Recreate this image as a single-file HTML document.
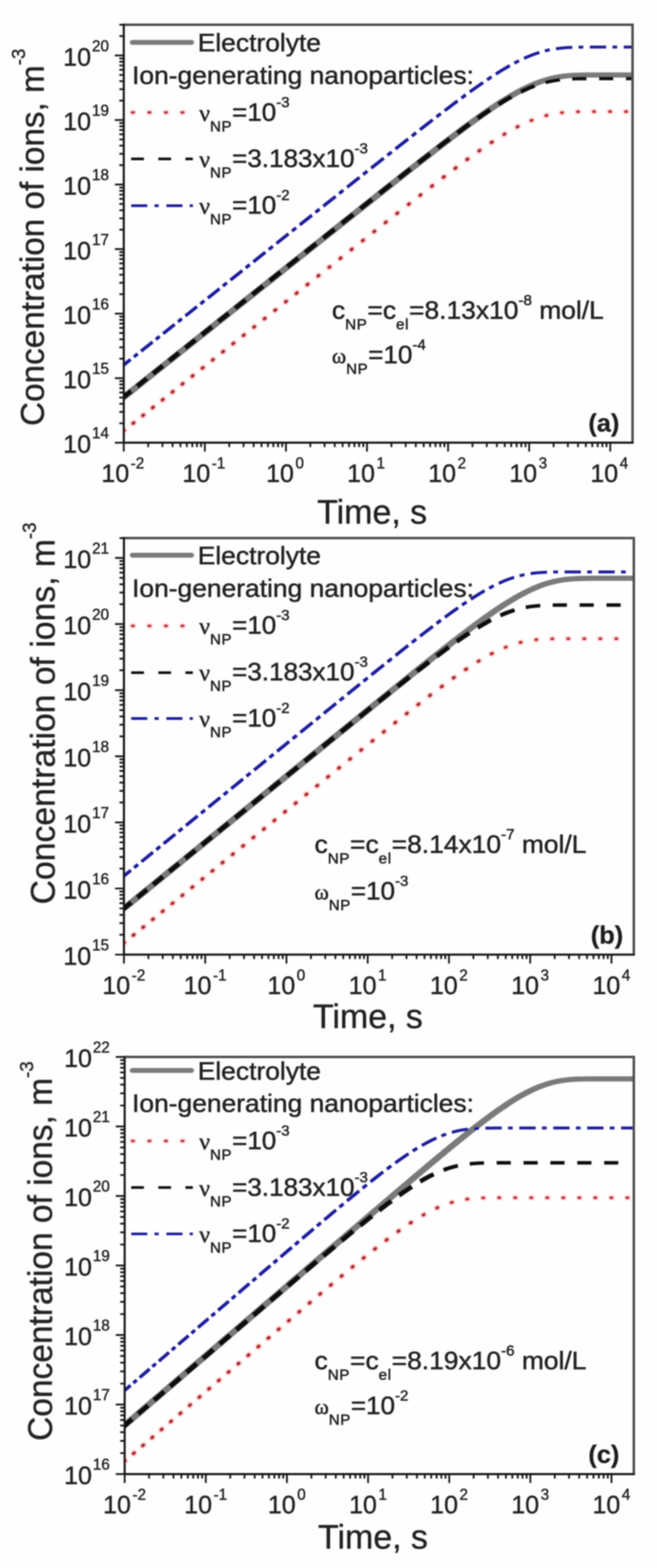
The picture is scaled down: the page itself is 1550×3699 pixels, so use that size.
<!DOCTYPE html>
<html lang="en">
<head>
<meta charset="utf-8">
<title>Concentration of ions vs time</title>
<style>
html,body{margin:0;padding:0;background:#fefefe;}
body{width:1550px;height:3699px;overflow:hidden;}
svg{display:block;}
</style>
</head>
<body>
<svg width="1550" height="3699" viewBox="0 0 1550 3699">
<defs><filter id="soft" x="0" y="0" width="1550" height="3699" filterUnits="userSpaceOnUse"><feGaussianBlur stdDeviation="1.8"/></filter></defs>
<rect width="1550" height="3699" fill="#fefefe"/>
<g filter="url(#soft)">
<g id="panel-a">
<clipPath id="clipa"><rect x="292" y="58.3" width="1200.3" height="986"/></clipPath>
<g clip-path="url(#clipa)" fill="none">
<path d="M282.5,953.7 290.7,947.3 298.8,940.8 306.9,934.3 315.1,927.8 323.2,921.4 331.4,914.9 339.5,908.4 347.6,901.9 355.8,895.5 363.9,889 372,882.5 380.2,876.1 388.3,869.6 396.4,863.1 404.6,856.6 412.7,850.2 420.8,843.7 429,837.2 437.1,830.7 445.2,824.3 453.4,817.8 461.5,811.3 469.7,804.8 477.8,798.4 485.9,791.9 494.1,785.4 502.2,778.9 510.3,772.5 518.5,766 526.6,759.5 534.7,753 542.9,746.6 551,740.1 559.1,733.6 567.3,727.1 575.4,720.7 583.5,714.2 591.7,707.7 599.8,701.2 608,694.8 616.1,688.3 624.2,681.8 632.4,675.4 640.5,668.9 648.6,662.4 656.8,655.9 664.9,649.5 673,643 681.2,636.5 689.3,630 697.4,623.6 705.6,617.1 713.7,610.6 721.8,604.2 730,597.7 738.1,591.2 746.3,584.7 754.4,578.3 762.5,571.8 770.7,565.3 778.8,558.9 786.9,552.4 795.1,545.9 803.2,539.5 811.3,533 819.5,526.5 827.6,520.1 835.7,513.6 843.9,507.2 852,500.7 860.1,494.2 868.3,487.8 876.4,481.3 884.5,474.9 892.7,468.4 900.8,462 908.9,455.5 917.1,449.1 925.2,442.7 933.3,436.2 941.5,429.8 949.6,423.4 957.7,417 965.9,410.6 974,404.2 982.1,397.8 990.3,391.4 998.4,385.1 1006.5,378.7 1014.6,372.4 1022.8,366.1 1030.9,359.7 1039,353.5 1047.1,347.2 1055.3,340.9 1063.4,334.7 1071.5,328.5 1079.6,322.4 1087.7,316.3 1095.8,310.2 1103.9,304.1 1112.1,298.1 1120.2,292.2 1128.3,286.3 1136.4,280.5 1144.4,274.7 1152.5,269.1 1160.6,263.5 1168.7,258 1176.7,252.6 1184.8,247.4 1192.9,242.2 1200.9,237.2 1208.9,232.4 1217,227.7 1225,223.2 1233,218.9 1241,214.8 1248.9,210.9 1256.9,207.2 1264.8,203.8 1272.8,200.6 1280.7,197.7 1288.6,195.1 1296.6,192.8 1304.5,190.7 1312.4,189 1320.3,187.5 1328.3,186.3 1336.2,185.3 1344.2,184.5 1352.2,184 1360.3,183.6 1368.3,183.3 1376.4,183.1 1384.5,183 1392.6,182.9 1400.7,182.9 1408.8,182.9 1417,182.9 1425.1,182.9 1433.2,182.9 1441.4,182.9 1449.5,182.9 1457.6,182.9 1465.8,182.9 1473.9,182.9 1482,182.9 1490.2,182.9 1498.3,182.9 1498.3,170.7 1490.2,170.7 1482,170.7 1473.9,170.7 1465.8,170.7 1457.6,170.7 1449.5,170.7 1441.4,170.7 1433.2,170.7 1425.1,170.7 1416.9,170.7 1408.8,170.7 1400.7,170.7 1392.5,170.7 1384.3,170.8 1376.2,170.9 1368,171.1 1359.7,171.4 1351.5,171.8 1343.2,172.3 1334.9,173.1 1326.6,174.1 1318.3,175.3 1310,176.8 1301.6,178.5 1293.3,180.6 1284.9,182.9 1276.6,185.5 1268.2,188.4 1259.9,191.6 1251.6,195.1 1243.3,198.8 1235,202.7 1226.7,206.8 1218.4,211.2 1210.2,215.8 1201.9,220.5 1193.7,225.4 1185.5,230.4 1177.2,235.6 1169,240.9 1160.8,246.3 1152.6,251.8 1144.4,257.4 1136.2,263.1 1128.1,268.9 1119.9,274.7 1111.7,280.6 1103.6,286.6 1095.4,292.6 1087.2,298.6 1079.1,304.7 1070.9,310.9 1062.8,317 1054.6,323.2 1046.5,329.5 1038.3,335.7 1030.2,342 1022,348.3 1013.9,354.6 1005.7,360.9 997.6,367.3 989.4,373.6 981.3,380 973.2,386.4 965,392.8 956.9,399.2 948.7,405.6 940.6,412 932.5,418.4 924.3,424.8 916.2,431.3 908,437.7 899.9,444.1 891.8,450.6 883.6,457 875.5,463.5 867.4,469.9 859.2,476.4 851.1,482.8 842.9,489.3 834.8,495.7 826.7,502.2 818.5,508.7 810.4,515.1 802.3,521.6 794.1,528.1 786,534.5 777.9,541 769.7,547.5 761.6,553.9 753.4,560.4 745.3,566.9 737.2,573.3 729,579.8 720.9,586.3 712.8,592.8 704.6,599.2 696.5,605.7 688.4,612.2 680.2,618.6 672.1,625.1 664,631.6 655.8,638.1 647.7,644.5 639.6,651 631.4,657.5 623.3,663.9 615.1,670.4 607,676.9 598.9,683.4 590.7,689.8 582.6,696.3 574.5,702.8 566.3,709.3 558.2,715.7 550.1,722.2 541.9,728.7 533.8,735.2 525.7,741.6 517.5,748.1 509.4,754.6 501.3,761.1 493.1,767.5 485,774 476.8,780.5 468.7,787 460.6,793.4 452.4,799.9 444.3,806.4 436.2,812.9 428,819.3 419.9,825.8 411.8,832.3 403.6,838.7 395.5,845.2 387.4,851.7 379.2,858.2 371.1,864.6 363,871.1 354.8,877.6 346.7,884.1 338.5,890.5 330.4,897 322.3,903.5 314.1,910 306,916.4 297.9,922.9 289.7,929.4 281.6,935.9 273.5,942.3Z" fill="#7a7a7a"/>
<path d="M1324.6,265.9l2.6,-0.3M1362.3,263.7l2.6,-0.1M1400.1,263.3l2.6,-0M1437.9,263.3l2.6,-0M1475.7,263.3l2.6,-0" stroke="#ff4048" stroke-opacity="0.14" stroke-width="14.0" stroke-linecap="round"/>
<path d="M1252.8,284.4l2.4,-1M1287.8,272.7l2.5,-0.6" stroke="#ff4048" stroke-opacity="0.14" stroke-width="14.5" stroke-linecap="round"/>
<path d="M1188.8,317.3l2.2,-1.3M1219.9,299.7l2.3,-1.2" stroke="#ff4048" stroke-opacity="0.14" stroke-width="15.0" stroke-linecap="round"/>
<path d="M290.9,1016.9l2,-1.6M313.8,998.7l2,-1.6M336.7,980.5l2,-1.6M359.7,962.1l2,-1.6M382.9,943.7l2,-1.6M406.2,925.1l2,-1.6M429.7,906.4l2,-1.6M453.3,887.6l2,-1.6M477.1,868.7l2,-1.6M501.1,849.6l2,-1.6M525.2,830.4l2,-1.6M549.5,811.1l2,-1.6M574,791.6l2,-1.6M598.6,772l2,-1.6M623.4,752.3l2,-1.6M648.4,732.4l2,-1.6M673.6,712.4l2,-1.6M698.9,692.2l2,-1.6M724.5,671.9l2,-1.6M750.2,651.4l2,-1.6M776.2,630.8l2,-1.6M802.3,610l2,-1.6M828.6,589.1l2,-1.6M855.2,568l2,-1.6M882,546.8l2,-1.6M909,525.4l2,-1.6M936.2,503.9l2,-1.6M963.5,482.4l2,-1.6M990.8,461l2,-1.6M1018.2,439.7l2.1,-1.6M1045.8,418.5l2.1,-1.6M1073.5,397.4l2.1,-1.6M1101.5,376.6l2.1,-1.5M1130,356.2l2.1,-1.5M1159,336.3l2.2,-1.4" stroke="#ff4048" stroke-opacity="0.14" stroke-width="15.5" stroke-linecap="round"/>
<path d="M1324.6,265.9l2.6,-0.3M1362.3,263.7l2.6,-0.1M1400.1,263.3l2.6,-0M1437.9,263.3l2.6,-0M1475.7,263.3l2.6,-0" stroke="#ee3a40" stroke-opacity="0.72" stroke-width="8.0" stroke-linecap="round"/>
<path d="M1252.8,284.4l2.4,-1M1287.8,272.7l2.5,-0.6" stroke="#ee3a40" stroke-opacity="0.72" stroke-width="8.5" stroke-linecap="round"/>
<path d="M1188.8,317.3l2.2,-1.3M1219.9,299.7l2.3,-1.2" stroke="#ee3a40" stroke-opacity="0.72" stroke-width="9.0" stroke-linecap="round"/>
<path d="M290.9,1016.9l2,-1.6M313.8,998.7l2,-1.6M336.7,980.5l2,-1.6M359.7,962.1l2,-1.6M382.9,943.7l2,-1.6M406.2,925.1l2,-1.6M429.7,906.4l2,-1.6M453.3,887.6l2,-1.6M477.1,868.7l2,-1.6M501.1,849.6l2,-1.6M525.2,830.4l2,-1.6M549.5,811.1l2,-1.6M574,791.6l2,-1.6M598.6,772l2,-1.6M623.4,752.3l2,-1.6M648.4,732.4l2,-1.6M673.6,712.4l2,-1.6M698.9,692.2l2,-1.6M724.5,671.9l2,-1.6M750.2,651.4l2,-1.6M776.2,630.8l2,-1.6M802.3,610l2,-1.6M828.6,589.1l2,-1.6M855.2,568l2,-1.6M882,546.8l2,-1.6M909,525.4l2,-1.6M936.2,503.9l2,-1.6M963.5,482.4l2,-1.6M990.8,461l2,-1.6M1018.2,439.7l2.1,-1.6M1045.8,418.5l2.1,-1.6M1073.5,397.4l2.1,-1.6M1101.5,376.6l2.1,-1.5M1130,356.2l2.1,-1.5M1159,336.3l2.2,-1.4" stroke="#ee3a40" stroke-opacity="0.72" stroke-width="9.5" stroke-linecap="round"/>
<path d="M1324.6,265.9l2.6,-0.3M1362.3,263.7l2.6,-0.1M1400.1,263.3l2.6,-0M1437.9,263.3l2.6,-0M1475.7,263.3l2.6,-0" stroke="#7c2a2e" stroke-width="3.8" stroke-linecap="round"/>
<path d="M1252.8,284.4l2.4,-1M1287.8,272.7l2.5,-0.6" stroke="#7c2a2e" stroke-width="4.3" stroke-linecap="round"/>
<path d="M1188.8,317.3l2.2,-1.3M1219.9,299.7l2.3,-1.2" stroke="#7c2a2e" stroke-width="4.8" stroke-linecap="round"/>
<path d="M290.9,1016.9l2,-1.6M313.8,998.7l2,-1.6M336.7,980.5l2,-1.6M359.7,962.1l2,-1.6M382.9,943.7l2,-1.6M406.2,925.1l2,-1.6M429.7,906.4l2,-1.6M453.3,887.6l2,-1.6M477.1,868.7l2,-1.6M501.1,849.6l2,-1.6M525.2,830.4l2,-1.6M549.5,811.1l2,-1.6M574,791.6l2,-1.6M598.6,772l2,-1.6M623.4,752.3l2,-1.6M648.4,732.4l2,-1.6M673.6,712.4l2,-1.6M698.9,692.2l2,-1.6M724.5,671.9l2,-1.6M750.2,651.4l2,-1.6M776.2,630.8l2,-1.6M802.3,610l2,-1.6M828.6,589.1l2,-1.6M855.2,568l2,-1.6M882,546.8l2,-1.6M909,525.4l2,-1.6M936.2,503.9l2,-1.6M963.5,482.4l2,-1.6M990.8,461l2,-1.6M1018.2,439.7l2.1,-1.6M1045.8,418.5l2.1,-1.6M1073.5,397.4l2.1,-1.6M1101.5,376.6l2.1,-1.5M1130,356.2l2.1,-1.5M1159,336.3l2.2,-1.4" stroke="#7c2a2e" stroke-width="5.3" stroke-linecap="round"/>
<path d="M290,945.7 297.8,939.4 305.7,933.2 313.6,926.9 306.1,917.5 298.2,923.7 290.3,930 282.5,936.3ZM327,916.2 334.9,909.9 342.8,903.6 350.7,897.3 343.2,887.9 335.3,894.2 327.4,900.5 319.5,906.8ZM364.4,886.5 372.3,880.1 380.4,873.8 388.4,867.4 380.9,857.9 372.8,864.3 364.8,870.7 356.9,877.1ZM402.2,856.4 410.3,850 418.4,843.5 426.5,837.1 419,827.6 410.8,834.1 402.7,840.5 394.7,847ZM440.4,825.9 448.6,819.4 456.8,812.9 465.1,806.3 457.6,796.9 449.3,803.5 441.1,810 432.9,816.5ZM479.2,795.1 487.5,788.5 495.8,781.9 504.2,775.2 496.7,765.8 488.3,772.4 480,779 471.7,785.6ZM518.5,763.8 526.9,757.1 535.4,750.4 543.8,743.7 536.3,734.2 527.9,741 519.4,747.7 511,754.4ZM558.4,732.1 566.9,725.3 575.4,718.5 584,711.7 576.5,702.3 567.9,709.1 559.4,715.9 550.8,722.7ZM598.7,700 607.4,693.1 616,686.2 624.7,679.3 617.2,669.9 608.5,676.8 599.9,683.7 591.2,690.6ZM639.7,667.4 648.4,660.4 657.2,653.4 666,646.4 658.5,637 649.7,644 640.9,651 632.2,658ZM681.2,634.4 690.1,627.3 699,620.2 707.9,613.1 700.4,603.7 691.5,610.8 682.6,617.9 673.7,624.9ZM723.3,600.9 732.3,593.7 741.4,586.5 750.5,579.3 743,569.8 733.9,577 724.8,584.2 715.8,591.4ZM766.1,566.8 775.2,559.6 784.4,552.3 793.6,544.9 786.1,535.5 776.9,542.8 767.7,550.1 758.6,557.4ZM809.5,532.3 818.8,525 828.1,517.5 837.5,510.1 830,500.7 820.6,508.1 811.3,515.5 802,522.9ZM853.6,497.3 863.1,489.8 872.5,482.3 882,474.8 874.6,465.3 865,472.9 855.6,480.4 846.1,487.9ZM898.4,461.8 908,454.2 917.7,446.6 927.3,438.9 919.9,429.5 910.2,437.1 900.6,444.7 891,452.3ZM944,425.8 953.7,418.2 963.3,410.6 973,402.9 965.6,393.5 955.9,401.1 946.2,408.7 936.5,416.4ZM989.8,389.8 999.5,382.3 1009.2,374.7 1018.9,367.1 1011.6,357.7 1001.8,365.2 992.1,372.8 982.4,380.4ZM1035.8,354.1 1045.5,346.6 1055.3,339.1 1065.1,331.7 1057.9,322.2 1048.1,329.7 1038.3,337.1 1028.5,344.6ZM1082.3,318.7 1092.1,311.4 1101.9,304.1 1111.8,296.9 1104.9,287.4 1095,294.6 1085.1,301.9 1075.2,309.2ZM1129.6,284.1 1139.6,277.1 1149.6,270.1 1159.7,263.3 1153.3,253.8 1143.1,260.7 1133,267.6 1123,274.6ZM1178.6,250.9 1188.8,244.5 1199.1,238.3 1209.6,232.3 1204.2,222.9 1193.6,228.9 1183,235.1 1172.7,241.5ZM1230.5,221 1241.2,215.9 1252,211.1 1263.1,206.7 1259.6,197.7 1248.2,202 1237.1,206.7 1226.2,211.7ZM1287.8,198.6 1298.9,196 1310.1,193.8 1321.5,192.2 1320.4,183.9 1308.8,185.4 1297.2,187.5 1285.8,190ZM1350.1,190 1361.2,189.6 1372.3,189.4 1383.5,189.4 1383.4,181.2 1372.2,181.2 1361,181.4 1349.8,181.8ZM1413.4,189.3 1424.5,189.3 1435.7,189.3 1446.8,189.3 1446.8,181.1 1435.7,181.1 1424.5,181.1 1413.4,181.1ZM1476.8,189.3 1484,189.3 1491.1,189.3 1498.3,189.3 1498.3,181.1 1491.1,181.1 1484,181.1 1476.8,181.1Z" fill="#0c0c0c"/>
<path d="M283.8,872.5 292.7,865.4 301.7,858.3 310.6,851.2 305.7,845 296.7,852.1 287.8,859.2 278.9,866.3ZM318.3,845 321.3,842.6 324.3,840.2 327.4,837.8 322.4,831.7 319.4,834.1 316.4,836.5 313.4,838.9ZM335.4,831.4 344.4,824.3 353.4,817.2 362.3,810 357.4,803.8 348.4,811 339.5,818.1 330.5,825.2ZM370.1,803.8 373.2,801.4 376.2,799 379.2,796.5 374.3,790.4 371.3,792.8 368.3,795.2 365.2,797.6ZM387.4,790 396.4,782.9 405.5,775.7 414.5,768.5 409.6,762.3 400.6,769.5 391.5,776.7 382.5,783.9ZM422.4,762.2 425.5,759.7 428.6,757.3 431.6,754.9 426.7,748.7 423.6,751.1 420.6,753.6 417.5,756ZM439.9,748.3 449,741.1 458.1,733.8 467.2,726.5 462.3,720.3 453.2,727.6 444.1,734.9 435,742.1ZM475.2,720.2 478.3,717.7 481.4,715.3 484.5,712.8 479.6,706.6 476.5,709.1 473.4,711.6 470.3,714ZM492.8,706.2 502,698.9 511.2,691.5 520.4,684.2 515.5,678 506.3,685.4 497.1,692.7 487.9,700ZM528.5,677.8 531.6,675.3 534.7,672.8 537.8,670.3 532.9,664.2 529.8,666.7 526.7,669.1 523.6,671.6ZM546.2,663.7 555.5,656.3 564.8,648.9 574.1,641.4 569.2,635.3 559.9,642.7 550.6,650.1 541.3,657.5ZM582.3,635 585.4,632.5 588.6,630 591.7,627.5 586.8,621.3 583.6,623.8 580.5,626.3 577.3,628.8ZM600.2,620.7 609.6,613.3 619,605.8 628.4,598.3 623.5,592.1 614,599.6 604.7,607.1 595.3,614.6ZM636.6,591.8 639.7,589.3 642.9,586.7 646.1,584.2 641.2,578 638,580.6 634.8,583.1 631.6,585.6ZM654.7,577.4 664.1,569.8 673.6,562.3 683.1,554.7 678.2,548.6 668.7,556.1 659.2,563.7 649.7,571.2ZM691.4,548.2 694.6,545.6 697.8,543.1 701,540.5 696.1,534.3 692.9,536.9 689.7,539.4 686.5,542ZM709.7,533.6 719.2,526 728.8,518.4 738.4,510.8 733.5,504.6 723.9,512.2 714.3,519.8 704.8,527.5ZM746.8,504.1 750,501.5 753.2,499 756.5,496.4 751.6,490.2 748.3,492.8 745.1,495.4 741.8,497.9ZM765.2,489.4 774.9,481.8 784.6,474.1 794.3,466.4 789.4,460.2 779.7,467.9 770,475.6 760.3,483.3ZM802.7,459.6 806,457 809.3,454.4 812.5,451.8 807.6,445.7 804.3,448.3 801.1,450.9 797.8,453.5ZM821.4,444.8 831.1,437.1 840.9,429.3 850.7,421.5 845.8,415.4 836,423.1 826.2,430.9 816.5,438.7ZM859.2,414.8 862.5,412.1 865.9,409.5 869.2,406.9 864.3,400.7 861,403.3 857.6,406 854.3,408.6ZM878.1,399.8 888,392 897.9,384.2 907.8,376.3 902.9,370.1 893,378 883.1,385.8 873.2,393.6ZM916.4,369.5 919.8,366.8 923.1,364.2 926.5,361.5 921.6,355.4 918.2,358 914.9,360.7 911.5,363.3ZM935.5,354.4 945.5,346.6 955.4,338.7 965.4,330.9 960.5,324.7 950.6,332.5 940.6,340.4 930.6,348.2ZM974.1,324.1 977.5,321.4 980.8,318.8 984.2,316.2 979.3,310 976,312.6 972.6,315.2 969.3,317.9ZM993.3,309.1 1003.3,301.3 1013.3,293.5 1023.3,285.7 1018.5,279.5 1008.5,287.3 998.5,295.1 988.4,302.9ZM1032.1,278.9 1035.5,276.3 1038.9,273.7 1042.3,271.2 1037.5,264.9 1034.1,267.5 1030.7,270.1 1027.4,272.7ZM1051.5,264.1 1061.6,256.4 1071.7,248.8 1081.9,241.2 1077.2,234.9 1067,242.5 1056.9,250.2 1046.8,257.9ZM1090.9,234.5 1094.3,231.9 1097.7,229.4 1101.1,226.9 1096.5,220.6 1093.1,223.1 1089.7,225.7 1086.3,228.2ZM1110.7,220 1121,212.6 1131.3,205.2 1141.8,198 1137.4,191.6 1126.9,198.9 1116.5,206.3 1106.1,213.7ZM1151.3,191.5 1154.7,189.2 1158.2,186.8 1161.7,184.5 1157.5,178.1 1154,180.4 1150.5,182.8 1147,185.1ZM1171.9,177.9 1182.7,171.1 1193.6,164.6 1204.6,158.2 1200.8,151.6 1189.7,158 1178.7,164.6 1167.9,171.4ZM1215.2,152.3 1218.8,150.4 1222.4,148.6 1226.1,146.7 1222.7,140 1219.1,141.9 1215.4,143.8 1211.7,145.7ZM1237.8,141.1 1249.5,136 1261.4,131.3 1273.6,127.2 1271.3,120.3 1258.9,124.5 1246.7,129.2 1234.9,134.3ZM1286.4,123.6 1290.2,122.6 1293.9,121.8 1297.7,121 1296.3,114 1292.4,114.8 1288.5,115.7 1284.7,116.6ZM1312,118.4 1324.7,116.9 1337.5,115.8 1350.3,115.2 1350,108.2 1337,108.8 1324,109.9 1311.2,111.4ZM1365,114.8 1368.7,114.8 1372.4,114.7 1376.1,114.7 1376,107.7 1372.3,107.7 1368.6,107.8 1364.9,107.8ZM1391.5,114.6 1404.3,114.6 1417.2,114.6 1430,114.6 1430,107.6 1417.2,107.6 1404.3,107.6 1391.5,107.6ZM1445,114.6 1448.7,114.6 1452.3,114.6 1456,114.6 1456,107.6 1452.3,107.6 1448.7,107.6 1445,107.6ZM1471.5,114.6 1480.4,114.6 1489.4,114.6 1498.3,114.6 1498.3,107.6 1489.4,107.6 1480.4,107.6 1471.5,107.6Z" fill="#1e1e9c"/>
</g>
<g stroke="#161616" stroke-width="5.0" fill="none">
<path d="M292,58.3 H1492.3 V1044.3" stroke="#4c4c4c" stroke-width="5.8"/>
<path d="M292,55.8 V1044.3 M292,1044.3 H1494.8"/>
</g>
<path d="M292,1044.3v21M349.6,1044.3v10.5M383.3,1044.3v10.5M407.2,1044.3v10.5M425.7,1044.3v10.5M440.8,1044.3v10.5M453.7,1044.3v10.5M464.7,1044.3v10.5M474.5,1044.3v10.5M483.3,1044.3v21M540.9,1044.3v10.5M574.5,1044.3v10.5M598.4,1044.3v10.5M617,1044.3v10.5M632.1,1044.3v10.5M644.9,1044.3v10.5M656,1044.3v10.5M665.8,1044.3v10.5M674.6,1044.3v21M732.1,1044.3v10.5M765.8,1044.3v10.5M789.7,1044.3v10.5M808.3,1044.3v10.5M823.4,1044.3v10.5M836.2,1044.3v10.5M847.3,1044.3v10.5M857.1,1044.3v10.5M865.9,1044.3v21M923.4,1044.3v10.5M957.1,1044.3v10.5M981,1044.3v10.5M999.6,1044.3v10.5M1014.7,1044.3v10.5M1027.5,1044.3v10.5M1038.6,1044.3v10.5M1048.4,1044.3v10.5M1057.1,1044.3v21M1114.7,1044.3v10.5M1148.4,1044.3v10.5M1172.3,1044.3v10.5M1190.8,1044.3v10.5M1206,1044.3v10.5M1218.8,1044.3v10.5M1229.9,1044.3v10.5M1239.7,1044.3v10.5M1248.4,1044.3v21M1306,1044.3v10.5M1339.7,1044.3v10.5M1363.6,1044.3v10.5M1382.1,1044.3v10.5M1397.3,1044.3v10.5M1410.1,1044.3v10.5M1421.2,1044.3v10.5M1430.9,1044.3v10.5M1439.7,1044.3v21M292,1044.3h-21M292,998.5h-10.5M292,971.7h-10.5M292,952.6h-10.5M292,937.9h-10.5M292,925.8h-10.5M292,915.7h-10.5M292,906.8h-10.5M292,899h-10.5M292,892.1h-21M292,846.2h-10.5M292,819.4h-10.5M292,800.4h-10.5M292,785.7h-10.5M292,773.6h-10.5M292,763.4h-10.5M292,754.6h-10.5M292,746.8h-10.5M292,739.8h-21M292,694h-10.5M292,667.2h-10.5M292,648.2h-10.5M292,633.4h-10.5M292,621.4h-10.5M292,611.2h-10.5M292,602.4h-10.5M292,594.6h-10.5M292,587.6h-21M292,541.8h-10.5M292,515h-10.5M292,496h-10.5M292,481.2h-10.5M292,469.2h-10.5M292,459h-10.5M292,450.1h-10.5M292,442.4h-10.5M292,435.4h-21M292,389.6h-10.5M292,362.8h-10.5M292,343.7h-10.5M292,329h-10.5M292,316.9h-10.5M292,306.7h-10.5M292,297.9h-10.5M292,290.1h-10.5M292,283.2h-21M292,237.3h-10.5M292,210.5h-10.5M292,191.5h-10.5M292,176.8h-10.5M292,164.7h-10.5M292,154.5h-10.5M292,145.7h-10.5M292,137.9h-10.5M292,130.9h-21M292,85.1h-10.5M292,58.3h-10.5" stroke="#161616" stroke-width="4.2" fill="none"/>
<g font-size="59" fill="#222222" stroke="#222222" stroke-width="0.9" font-family='"Liberation Sans", Arial, Helvetica, sans-serif'>
<text x="289.7" y="1137.3" text-anchor="middle">10<tspan font-size="36" dy="-32" dx="3.6">-2</tspan></text>
<text x="481" y="1137.3" text-anchor="middle">10<tspan font-size="36" dy="-32" dx="3.6">-1</tspan></text>
<text x="672.3" y="1137.3" text-anchor="middle">10<tspan font-size="36" dy="-32" dx="3.6">0</tspan></text>
<text x="863.6" y="1137.3" text-anchor="middle">10<tspan font-size="36" dy="-32" dx="3.6">1</tspan></text>
<text x="1054.8" y="1137.3" text-anchor="middle">10<tspan font-size="36" dy="-32" dx="3.6">2</tspan></text>
<text x="1246.1" y="1137.3" text-anchor="middle">10<tspan font-size="36" dy="-32" dx="3.6">3</tspan></text>
<text x="1437.4" y="1137.3" text-anchor="middle">10<tspan font-size="36" dy="-32" dx="3.6">4</tspan></text>
<text x="257" y="1068.3" text-anchor="end">10<tspan font-size="36" dy="-34" dx="2.2">14</tspan></text>
<text x="257" y="916.1" text-anchor="end">10<tspan font-size="36" dy="-34" dx="2.2">15</tspan></text>
<text x="257" y="763.8" text-anchor="end">10<tspan font-size="36" dy="-34" dx="2.2">16</tspan></text>
<text x="257" y="611.6" text-anchor="end">10<tspan font-size="36" dy="-34" dx="2.2">17</tspan></text>
<text x="257" y="459.4" text-anchor="end">10<tspan font-size="36" dy="-34" dx="2.2">18</tspan></text>
<text x="257" y="307.2" text-anchor="end">10<tspan font-size="36" dy="-34" dx="2.2">19</tspan></text>
<text x="257" y="154.9" text-anchor="end">10<tspan font-size="36" dy="-34" dx="2.2">20</tspan></text>
</g>
<text transform="translate(103,559.8) rotate(-90)" text-anchor="middle" font-size="78.5" fill="#222222" stroke="#222222" stroke-width="0.9" font-family='"Liberation Sans", Arial, Helvetica, sans-serif'>Concentration of ions, m<tspan font-size="44" dy="-44">-3</tspan></text>
<text x="878" y="1235.3" text-anchor="middle" font-size="80" fill="#222222" stroke="#222222" stroke-width="0.9" font-family='"Liberation Sans", Arial, Helvetica, sans-serif'>Time, s</text>
<line x1="312" y1="100" x2="452" y2="100" stroke="#7a7a7a" stroke-width="11.5" stroke-linecap="round"/>
<g font-size="60" fill="#222222" stroke="#222222" stroke-width="1.1" font-family='"Liberation Sans", Arial, Helvetica, sans-serif'>
<text transform="translate(466.5,121.3) scale(1.038,1)">Electrolyte</text>
<text transform="translate(311.5,197.8) scale(1.038,1)">Ion-generating nanoparticles:</text>
<path d="M311.8,265.3h3.5M350.8,265.3h3.5M389.8,265.3h3.5M428.8,265.3h3.5" stroke="#ff3040" stroke-opacity="0.12" stroke-width="14" stroke-linecap="round" fill="none"/>
<path d="M311.8,265.3h3.5M350.8,265.3h3.5M389.8,265.3h3.5M428.8,265.3h3.5" stroke="#ee3a40" stroke-opacity="0.72" stroke-width="7.4" stroke-linecap="round" fill="none"/>
<path d="M311.8,265.3h3.5M350.8,265.3h3.5M389.8,265.3h3.5M428.8,265.3h3.5" stroke="#7c2a2e" stroke-width="3.4000000000000004" stroke-linecap="round" fill="none"/>
<text transform="translate(470,285.3) scale(1.025,1)"><tspan font-family='"Liberation Serif", "DejaVu Serif", serif' font-size="55">ν</tspan><tspan font-size="34.5" dy="25" letter-spacing="1.4">NP</tspan><tspan dy="-25">=10</tspan><tspan font-size="34.5" dy="-32">-3</tspan></text>
<line x1="309.5" y1="374.8" x2="455" y2="374.8" stroke="#0c0c0c" stroke-width="6.2" stroke-dasharray="30 34"/>
<text transform="translate(470,393.8) scale(1.025,1)"><tspan font-family='"Liberation Serif", "DejaVu Serif", serif' font-size="55">ν</tspan><tspan font-size="34.5" dy="25" letter-spacing="1.4">NP</tspan><tspan dy="-25">=3.183x10</tspan><tspan font-size="34.5" dy="-32">-3</tspan></text>
<line x1="309.5" y1="485.3" x2="455" y2="485.3" stroke="#1e1e9c" stroke-width="6.4" stroke-dasharray="38 17 10 18"/>
<text transform="translate(470,503.8) scale(1.025,1)"><tspan font-family='"Liberation Serif", "DejaVu Serif", serif' font-size="55">ν</tspan><tspan font-size="34.5" dy="25" letter-spacing="1.4">NP</tspan><tspan dy="-25">=10</tspan><tspan font-size="34.5" dy="-32">-2</tspan></text>
<text transform="translate(783,752) scale(1.038,1)">c<tspan font-size="34.5" dy="25" letter-spacing="1.4">NP</tspan><tspan dy="-25">=c</tspan><tspan font-size="34.5" dy="25" letter-spacing="1.4">el</tspan><tspan dy="-25">=8.13x10</tspan><tspan font-size="34.5" dy="-32">-8</tspan><tspan dy="32"> mol/L</tspan></text>
<text transform="translate(783,857) scale(1.025,1)"><tspan font-family='"Liberation Serif", "DejaVu Serif", serif' font-size="50" stroke-width="1.2">ω</tspan><tspan font-size="34.5" dy="25" letter-spacing="1.4">NP</tspan><tspan dy="-25">=10</tspan><tspan font-size="34.5" dy="-32">-4</tspan></text>
</g>
<text x="1461.3" y="1018.3" text-anchor="end" font-size="60" font-weight="bold" fill="#1c1c1c" stroke="#1c1c1c" stroke-width="0.6" font-family='"Liberation Sans", Arial, Helvetica, sans-serif'>(a)</text>
</g>
<g id="panel-b">
<clipPath id="clipb"><rect x="292.4" y="1269.3" width="1202.9" height="982.7"/></clipPath>
<g clip-path="url(#clipb)" fill="none">
<path d="M283,2160.1 291.2,2153.4 299.3,2146.8 307.5,2140.2 315.6,2133.5 323.8,2126.9 331.9,2120.3 340.1,2113.6 348.2,2107 356.4,2100.4 364.5,2093.7 372.7,2087.1 380.9,2080.5 389,2073.8 397.2,2067.2 405.3,2060.6 413.5,2053.9 421.6,2047.3 429.8,2040.7 437.9,2034 446.1,2027.4 454.2,2020.8 462.4,2014.1 470.5,2007.5 478.7,2000.9 486.8,1994.2 495,1987.6 503.1,1981 511.3,1974.3 519.4,1967.7 527.6,1961.1 535.8,1954.4 543.9,1947.8 552.1,1941.2 560.2,1934.5 568.4,1927.9 576.5,1921.3 584.7,1914.7 592.8,1908 601,1901.4 609.1,1894.8 617.3,1888.1 625.4,1881.5 633.6,1874.9 641.7,1868.2 649.9,1861.6 658,1855 666.2,1848.3 674.3,1841.7 682.5,1835.1 690.7,1828.4 698.8,1821.8 707,1815.2 715.1,1808.6 723.3,1801.9 731.4,1795.3 739.6,1788.7 747.7,1782 755.9,1775.4 764,1768.8 772.2,1762.2 780.3,1755.5 788.5,1748.9 796.6,1742.3 804.8,1735.6 812.9,1729 821.1,1722.4 829.2,1715.8 837.4,1709.2 845.5,1702.5 853.7,1695.9 861.8,1689.3 870,1682.7 878.2,1676.1 886.3,1669.5 894.5,1662.9 902.6,1656.3 910.8,1649.7 918.9,1643.1 927.1,1636.5 935.2,1629.9 943.4,1623.3 951.5,1616.8 959.7,1610.2 967.8,1603.6 975.9,1597.1 984.1,1590.5 992.2,1584 1000.4,1577.5 1008.5,1571 1016.7,1564.5 1024.8,1558 1033,1551.5 1041.1,1545.1 1049.2,1538.7 1057.4,1532.3 1065.5,1525.9 1073.7,1519.6 1081.8,1513.2 1089.9,1507 1098.1,1500.7 1106.2,1494.5 1114.3,1488.4 1122.4,1482.3 1130.5,1476.3 1138.7,1470.3 1146.8,1464.5 1154.9,1458.6 1163,1452.9 1171,1447.3 1179.1,1441.8 1187.2,1436.4 1195.3,1431.1 1203.3,1426 1211.4,1421 1219.4,1416.2 1227.4,1411.6 1235.5,1407.2 1243.5,1403 1251.5,1399 1259.4,1395.2 1267.4,1391.7 1275.3,1388.5 1283.3,1385.5 1291.2,1382.8 1299.2,1380.5 1307.1,1378.4 1315,1376.6 1323,1375 1330.9,1373.8 1338.9,1372.8 1346.9,1372 1354.9,1371.4 1363,1371 1371,1370.7 1379.1,1370.5 1387.2,1370.4 1395.4,1370.3 1403.5,1370.3 1411.6,1370.3 1419.8,1370.3 1427.9,1370.3 1436.1,1370.3 1444.2,1370.3 1452.4,1370.3 1460.5,1370.3 1468.7,1370.3 1476.8,1370.3 1485,1370.3 1493.1,1370.3 1501.3,1370.3 1501.3,1358.1 1493.1,1358.1 1485,1358.1 1476.8,1358.1 1468.7,1358.1 1460.5,1358.1 1452.4,1358.1 1444.2,1358.1 1436.1,1358.1 1427.9,1358.1 1419.8,1358.1 1411.6,1358.1 1403.4,1358.1 1395.3,1358.1 1387.1,1358.2 1378.9,1358.3 1370.7,1358.5 1362.4,1358.8 1354.2,1359.2 1345.9,1359.8 1337.6,1360.6 1329.2,1361.6 1320.9,1362.8 1312.5,1364.3 1304.2,1366.1 1295.8,1368.2 1287.4,1370.6 1279.1,1373.3 1270.7,1376.3 1262.4,1379.6 1254,1383.1 1245.7,1386.9 1237.4,1390.9 1229.1,1395.2 1220.8,1399.7 1212.5,1404.3 1204.2,1409.2 1196,1414.2 1187.7,1419.3 1179.5,1424.6 1171.3,1430.1 1163,1435.6 1154.8,1441.3 1146.6,1447 1138.4,1452.8 1130.2,1458.7 1122,1464.7 1113.8,1470.8 1105.6,1476.9 1097.5,1483 1089.3,1489.2 1081.1,1495.5 1072.9,1501.8 1064.8,1508.1 1056.6,1514.4 1048.4,1520.8 1040.3,1527.2 1032.1,1533.7 1023.9,1540.1 1015.8,1546.6 1007.6,1553.1 999.4,1559.6 991.3,1566.1 983.1,1572.6 975,1579.1 966.8,1585.7 958.6,1592.2 950.5,1598.8 942.3,1605.4 934.2,1612 926,1618.5 917.9,1625.1 909.7,1631.7 901.6,1638.3 893.4,1644.9 885.2,1651.5 877.1,1658.1 868.9,1664.7 860.8,1671.3 852.6,1678 844.5,1684.6 836.3,1691.2 828.2,1697.8 820,1704.4 811.9,1711 803.7,1717.7 795.6,1724.3 787.4,1730.9 779.3,1737.5 771.1,1744.2 762.9,1750.8 754.8,1757.4 746.6,1764.1 738.5,1770.7 730.3,1777.3 722.2,1783.9 714,1790.6 705.9,1797.2 697.7,1803.8 689.6,1810.5 681.4,1817.1 673.3,1823.7 665.1,1830.3 657,1837 648.8,1843.6 640.7,1850.2 632.5,1856.9 624.3,1863.5 616.2,1870.1 608,1876.8 599.9,1883.4 591.7,1890 583.6,1896.7 575.4,1903.3 567.3,1909.9 559.1,1916.6 551,1923.2 542.8,1929.8 534.7,1936.5 526.5,1943.1 518.4,1949.7 510.2,1956.4 502.1,1963 493.9,1969.6 485.8,1976.3 477.6,1982.9 469.4,1989.5 461.3,1996.2 453.1,2002.8 445,2009.4 436.8,2016.1 428.7,2022.7 420.5,2029.3 412.4,2035.9 404.2,2042.6 396.1,2049.2 387.9,2055.8 379.8,2062.5 371.6,2069.1 363.5,2075.7 355.3,2082.4 347.2,2089 339,2095.6 330.9,2102.3 322.7,2108.9 314.5,2115.5 306.4,2122.2 298.2,2128.8 290.1,2135.4 281.9,2142.1 273.8,2148.7Z" fill="#7a7a7a"/>
<path d="M1263.9,1509.2l2.6,-0.3M1301.6,1507.1l2.6,-0M1339.4,1506.8l2.6,-0M1377.2,1506.8l2.6,-0M1415,1506.8l2.6,-0M1452.8,1506.8l2.6,0" stroke="#ff4048" stroke-opacity="0.14" stroke-width="14.0" stroke-linecap="round"/>
<path d="M1191.9,1527.3l2.4,-1M1227,1515.7l2.5,-0.6" stroke="#ff4048" stroke-opacity="0.14" stroke-width="14.5" stroke-linecap="round"/>
<path d="M1128.1,1560.3l2.2,-1.4M1159.1,1542.6l2.3,-1.2" stroke="#ff4048" stroke-opacity="0.14" stroke-width="15.0" stroke-linecap="round"/>
<path d="M291.4,2225l2,-1.6M314.2,2206.5l2,-1.6M336.9,2188l2,-1.6M359.8,2169.4l2,-1.6M382.8,2150.6l2,-1.6M406,2131.8l2,-1.6M429.4,2112.8l2,-1.6M452.8,2093.7l2,-1.6M476.5,2074.4l2,-1.6M500.3,2055.1l2,-1.6M524.2,2035.6l2,-1.6M548.3,2016l2,-1.6M572.6,1996.3l2,-1.6M597,1976.4l2,-1.6M621.6,1956.4l2,-1.6M646.4,1936.2l2,-1.6M671.4,1915.9l2,-1.6M696.5,1895.5l2,-1.6M721.8,1874.9l2,-1.6M747.3,1854.2l2,-1.6M773,1833.4l2,-1.6M798.8,1812.4l2,-1.6M824.9,1791.3l2,-1.6M851.2,1770l2,-1.6M877.8,1748.6l2,-1.6M904.6,1727l2,-1.6M931.6,1705.4l2,-1.6M958.7,1683.9l2,-1.6M986,1662.4l2,-1.6M1013.5,1641.2l2.1,-1.6M1041.3,1620.2l2.1,-1.6M1069.5,1599.5l2.1,-1.5M1098.3,1579.5l2.2,-1.4" stroke="#ff4048" stroke-opacity="0.14" stroke-width="15.5" stroke-linecap="round"/>
<path d="M1263.9,1509.2l2.6,-0.3M1301.6,1507.1l2.6,-0M1339.4,1506.8l2.6,-0M1377.2,1506.8l2.6,-0M1415,1506.8l2.6,-0M1452.8,1506.8l2.6,0" stroke="#ee3a40" stroke-opacity="0.72" stroke-width="8.0" stroke-linecap="round"/>
<path d="M1191.9,1527.3l2.4,-1M1227,1515.7l2.5,-0.6" stroke="#ee3a40" stroke-opacity="0.72" stroke-width="8.5" stroke-linecap="round"/>
<path d="M1128.1,1560.3l2.2,-1.4M1159.1,1542.6l2.3,-1.2" stroke="#ee3a40" stroke-opacity="0.72" stroke-width="9.0" stroke-linecap="round"/>
<path d="M291.4,2225l2,-1.6M314.2,2206.5l2,-1.6M336.9,2188l2,-1.6M359.8,2169.4l2,-1.6M382.8,2150.6l2,-1.6M406,2131.8l2,-1.6M429.4,2112.8l2,-1.6M452.8,2093.7l2,-1.6M476.5,2074.4l2,-1.6M500.3,2055.1l2,-1.6M524.2,2035.6l2,-1.6M548.3,2016l2,-1.6M572.6,1996.3l2,-1.6M597,1976.4l2,-1.6M621.6,1956.4l2,-1.6M646.4,1936.2l2,-1.6M671.4,1915.9l2,-1.6M696.5,1895.5l2,-1.6M721.8,1874.9l2,-1.6M747.3,1854.2l2,-1.6M773,1833.4l2,-1.6M798.8,1812.4l2,-1.6M824.9,1791.3l2,-1.6M851.2,1770l2,-1.6M877.8,1748.6l2,-1.6M904.6,1727l2,-1.6M931.6,1705.4l2,-1.6M958.7,1683.9l2,-1.6M986,1662.4l2,-1.6M1013.5,1641.2l2.1,-1.6M1041.3,1620.2l2.1,-1.6M1069.5,1599.5l2.1,-1.5M1098.3,1579.5l2.2,-1.4" stroke="#ee3a40" stroke-opacity="0.72" stroke-width="9.5" stroke-linecap="round"/>
<path d="M1263.9,1509.2l2.6,-0.3M1301.6,1507.1l2.6,-0M1339.4,1506.8l2.6,-0M1377.2,1506.8l2.6,-0M1415,1506.8l2.6,-0M1452.8,1506.8l2.6,0" stroke="#7c2a2e" stroke-width="3.8" stroke-linecap="round"/>
<path d="M1191.9,1527.3l2.4,-1M1227,1515.7l2.5,-0.6" stroke="#7c2a2e" stroke-width="4.3" stroke-linecap="round"/>
<path d="M1128.1,1560.3l2.2,-1.4M1159.1,1542.6l2.3,-1.2" stroke="#7c2a2e" stroke-width="4.8" stroke-linecap="round"/>
<path d="M291.4,2225l2,-1.6M314.2,2206.5l2,-1.6M336.9,2188l2,-1.6M359.8,2169.4l2,-1.6M382.8,2150.6l2,-1.6M406,2131.8l2,-1.6M429.4,2112.8l2,-1.6M452.8,2093.7l2,-1.6M476.5,2074.4l2,-1.6M500.3,2055.1l2,-1.6M524.2,2035.6l2,-1.6M548.3,2016l2,-1.6M572.6,1996.3l2,-1.6M597,1976.4l2,-1.6M621.6,1956.4l2,-1.6M646.4,1936.2l2,-1.6M671.4,1915.9l2,-1.6M696.5,1895.5l2,-1.6M721.8,1874.9l2,-1.6M747.3,1854.2l2,-1.6M773,1833.4l2,-1.6M798.8,1812.4l2,-1.6M824.9,1791.3l2,-1.6M851.2,1770l2,-1.6M877.8,1748.6l2,-1.6M904.6,1727l2,-1.6M931.6,1705.4l2,-1.6M958.7,1683.9l2,-1.6M986,1662.4l2,-1.6M1013.5,1641.2l2.1,-1.6M1041.3,1620.2l2.1,-1.6M1069.5,1599.5l2.1,-1.5M1098.3,1579.5l2.2,-1.4" stroke="#7c2a2e" stroke-width="5.3" stroke-linecap="round"/>
<path d="M290.3,2152.5 298.2,2146.1 306.1,2139.7 314,2133.3 306.3,2123.8 298.4,2130.2 290.5,2136.7 282.7,2143.1ZM327.4,2122.4 335.3,2115.9 343.2,2109.5 351.2,2103 343.5,2093.6 335.5,2100.1 327.6,2106.5 319.7,2112.9ZM364.7,2092 372.7,2085.5 380.7,2079 388.7,2072.4 381.1,2063 373,2069.6 365,2076.1 357,2082.6ZM402.4,2061.3 410.5,2054.7 418.6,2048.1 426.8,2041.5 419.1,2032.1 411,2038.7 402.9,2045.3 394.8,2051.9ZM440.6,2030.2 448.8,2023.6 457.1,2016.9 465.3,2010.2 457.6,2000.7 449.4,2007.4 441.2,2014.1 433,2020.8ZM479.3,1998.8 487.6,1992 495.9,1985.2 504.3,1978.4 496.6,1969 488.3,1975.8 479.9,1982.6 471.6,1989.3ZM518.5,1966.9 526.9,1960.1 535.3,1953.2 543.8,1946.3 536.1,1936.9 527.6,1943.8 519.2,1950.6 510.8,1957.5ZM558.1,1934.6 566.7,1927.7 575.2,1920.8 583.8,1913.8 576.1,1904.4 567.5,1911.3 559,1918.3 550.5,1925.2ZM598.3,1902 606.9,1894.9 615.6,1887.9 624.3,1880.8 616.6,1871.4 607.9,1878.5 599.3,1885.5 590.7,1892.5ZM639,1868.8 647.8,1861.7 656.5,1854.6 665.3,1847.4 657.7,1838 648.9,1845.2 640.1,1852.3 631.4,1859.4ZM680.3,1835.3 689.2,1828.1 698.1,1820.9 707,1813.6 699.3,1804.2 690.4,1811.4 681.5,1818.7 672.6,1825.9ZM722.1,1801.3 731.1,1794 740.1,1786.7 749.2,1779.3 741.5,1769.9 732.5,1777.2 723.5,1784.5 714.5,1791.9ZM764.6,1766.8 773.7,1759.4 782.8,1752 792,1744.5 784.4,1735.1 775.2,1742.6 766,1750 756.9,1757.4ZM807.6,1731.9 816.9,1724.4 826.2,1716.9 835.5,1709.3 827.9,1699.9 818.5,1707.4 809.3,1714.9 800,1722.4ZM851.4,1696.5 860.8,1688.9 870.2,1681.3 879.7,1673.6 872.1,1664.2 862.6,1671.8 853.2,1679.4 843.8,1687ZM895.8,1660.6 905.4,1652.9 915,1645.3 924.6,1637.6 917.1,1628.1 907.4,1635.8 897.8,1643.5 888.3,1651.2ZM941.1,1624.4 950.7,1616.7 960.4,1609.1 970.1,1601.4 962.6,1592 952.9,1599.6 943.2,1607.3 933.6,1615ZM986.8,1588.3 996.5,1580.8 1006.2,1573.2 1015.9,1565.7 1008.7,1556.3 998.9,1563.8 989.1,1571.3 979.4,1578.9ZM1033,1552.7 1042.8,1545.4 1052.6,1538.1 1062.5,1530.8 1055.6,1521.3 1045.6,1528.6 1035.7,1535.9 1025.9,1543.3ZM1080.3,1518 1090.2,1511 1100.2,1504.2 1110.4,1497.4 1104.1,1487.9 1093.9,1494.7 1083.7,1501.6 1073.7,1508.5ZM1129.5,1485.1 1139.8,1478.9 1150.1,1472.9 1160.7,1467.1 1155.7,1457.8 1144.9,1463.5 1134.3,1469.5 1123.9,1475.7ZM1182.4,1456.3 1193.2,1451.7 1204.1,1447.4 1215.3,1443.7 1212.4,1434.8 1200.9,1438.5 1189.6,1442.6 1178.6,1447.2ZM1241.2,1437 1252.4,1435.1 1263.6,1433.7 1274.9,1432.7 1274.2,1424.5 1262.7,1425.4 1251.2,1426.8 1239.8,1428.6ZM1304,1431.6 1315.2,1431.5 1326.3,1431.5 1337.4,1431.4 1337.4,1423.2 1326.3,1423.3 1315.1,1423.3 1303.9,1423.4ZM1367.4,1431.4 1378.5,1431.4 1389.7,1431.4 1400.8,1431.4 1400.8,1423.2 1389.7,1423.2 1378.5,1423.2 1367.4,1423.2ZM1430.8,1431.4 1441.9,1431.4 1453.1,1431.4 1464.2,1431.4 1464.2,1423.2 1453.1,1423.2 1441.9,1423.2 1430.8,1423.2Z" fill="#0c0c0c"/>
<path d="M284.2,2078.2 293.2,2070.9 302.2,2063.5 311.2,2056.2 306.2,2050.1 297.2,2057.4 288.2,2064.7 279.2,2072.1ZM319,2049.9 322,2047.4 325.1,2044.9 328.1,2042.4 323.1,2036.3 320.1,2038.8 317,2041.3 314,2043.7ZM336.2,2035.8 345.2,2028.5 354.3,2021.1 363.3,2013.8 358.4,2007.6 349.3,2015 340.3,2022.4 331.2,2029.7ZM371.2,2007.4 374.2,2004.9 377.3,2002.4 380.4,1999.9 375.4,1993.8 372.3,1996.3 369.2,1998.8 366.2,2001.3ZM388.5,1993.3 397.6,1985.9 406.7,1978.5 415.9,1971 410.9,1964.9 401.8,1972.3 392.6,1979.7 383.5,1987.1ZM423.7,1964.6 426.8,1962.1 429.9,1959.6 433,1957.1 428,1951 424.9,1953.5 421.9,1956 418.8,1958.5ZM441.3,1950.4 450.4,1942.9 459.6,1935.5 468.8,1928 463.8,1921.8 454.6,1929.3 445.4,1936.8 436.3,1944.3ZM476.7,1921.5 479.9,1919 483,1916.4 486.1,1913.9 481.1,1907.8 478,1910.3 474.9,1912.9 471.8,1915.4ZM494.4,1907.2 503.6,1899.6 512.9,1892.1 522.1,1884.6 517.2,1878.5 507.9,1886 498.6,1893.5 489.4,1901ZM530.2,1878.1 533.3,1875.5 536.4,1873 539.6,1870.4 534.6,1864.3 531.4,1866.8 528.3,1869.4 525.2,1871.9ZM547.9,1863.6 557.3,1856 566.6,1848.4 575.9,1840.8 570.9,1834.7 561.6,1842.3 552.3,1849.9 543,1857.5ZM584,1834.3 587.1,1831.7 590.3,1829.1 593.5,1826.6 588.5,1820.4 585.3,1823 582.2,1825.6 579,1828.2ZM601.9,1819.7 611.3,1812.1 620.7,1804.4 630.1,1796.8 625.1,1790.6 615.7,1798.3 606.3,1805.9 596.9,1813.6ZM638.2,1790.2 641.4,1787.6 644.6,1785 647.8,1782.4 642.8,1776.2 639.6,1778.8 636.4,1781.4 633.3,1784ZM656.3,1775.5 665.8,1767.8 675.3,1760.1 684.7,1752.3 679.8,1746.2 670.3,1753.9 660.8,1761.6 651.3,1769.3ZM692.9,1745.7 696.2,1743.1 699.4,1740.4 702.6,1737.8 697.6,1731.7 694.4,1734.3 691.2,1736.9 688,1739.5ZM711.2,1730.9 720.7,1723.1 730.3,1715.3 739.8,1707.6 734.9,1701.4 725.3,1709.2 715.7,1717 706.2,1724.7ZM748.1,1700.9 751.3,1698.2 754.6,1695.6 757.8,1693 752.9,1686.8 749.6,1689.5 746.4,1692.1 743.1,1694.7ZM766.5,1685.9 776.1,1678.1 785.7,1670.3 795.4,1662.5 790.4,1656.3 780.8,1664.2 771.1,1672 761.5,1679.8ZM803.8,1655.7 807,1653 810.3,1650.4 813.6,1647.7 808.6,1641.6 805.3,1644.3 802,1646.9 798.8,1649.6ZM822.3,1640.7 832,1632.8 841.7,1624.9 851.5,1617.1 846.5,1610.9 836.8,1618.8 827,1626.7 817.3,1634.5ZM859.9,1610.2 863.2,1607.6 866.5,1604.9 869.8,1602.2 864.9,1596.1 861.6,1598.8 858.3,1601.4 855,1604.1ZM878.7,1595.1 888.5,1587.2 898.3,1579.3 908.2,1571.4 903.2,1565.2 893.4,1573.2 883.5,1581.1 873.7,1589ZM916.7,1564.5 920.1,1561.9 923.4,1559.2 926.8,1556.5 921.8,1550.4 918.5,1553 915.2,1555.7 911.8,1558.4ZM935.7,1549.4 945.6,1541.5 955.6,1533.6 965.5,1525.7 960.6,1519.6 950.7,1527.4 940.7,1535.3 930.8,1543.2ZM974.2,1518.9 977.5,1516.3 980.9,1513.6 984.3,1511 979.4,1504.8 976.1,1507.5 972.7,1510.1 969.3,1512.7ZM993.4,1503.9 1003.4,1496.1 1013.4,1488.4 1023.5,1480.7 1018.7,1474.5 1008.6,1482.2 998.6,1489.9 988.5,1497.7ZM1032.4,1473.9 1035.8,1471.4 1039.2,1468.8 1042.6,1466.3 1037.9,1460 1034.5,1462.6 1031.1,1465.1 1027.7,1467.7ZM1052,1459.3 1062.2,1451.8 1072.5,1444.4 1082.9,1437 1078.4,1430.7 1068,1438.1 1057.6,1445.5 1047.4,1453ZM1092.3,1430.5 1095.7,1428.1 1099.2,1425.8 1102.7,1423.4 1098.4,1417 1094.9,1419.4 1091.4,1421.8 1087.9,1424.1ZM1112.8,1416.8 1123.5,1409.9 1134.3,1403.3 1145.3,1396.8 1141.4,1390.2 1130.4,1396.7 1119.4,1403.4 1108.6,1410.3ZM1155.8,1390.9 1159.4,1389 1163,1387.1 1166.6,1385.2 1163.2,1378.5 1159.6,1380.4 1155.9,1382.3 1152.2,1384.3ZM1178.3,1379.5 1189.9,1374.3 1201.8,1369.6 1214,1365.4 1211.7,1358.6 1199.3,1362.8 1187.1,1367.5 1175.3,1372.7ZM1226.8,1361.7 1230.5,1360.8 1234.3,1359.9 1238.1,1359.1 1236.6,1352.2 1232.7,1353 1228.9,1353.9 1225,1354.8ZM1252.3,1356.5 1265,1355 1277.8,1353.9 1290.6,1353.3 1290.3,1346.3 1277.3,1346.9 1264.3,1348 1251.5,1349.6ZM1305.3,1352.9 1309,1352.8 1312.7,1352.8 1316.4,1352.8 1316.3,1345.8 1312.6,1345.8 1308.9,1345.8 1305.2,1345.9ZM1331.8,1352.7 1344.6,1352.7 1357.5,1352.7 1370.3,1352.7 1370.3,1345.7 1357.5,1345.7 1344.6,1345.7 1331.8,1345.7ZM1385.3,1352.7 1389,1352.7 1392.6,1352.7 1396.3,1352.7 1396.3,1345.7 1392.6,1345.7 1389,1345.7 1385.3,1345.7ZM1411.8,1352.7 1424.6,1352.7 1437.5,1352.7 1450.3,1352.7 1450.3,1345.7 1437.5,1345.7 1424.6,1345.7 1411.8,1345.7ZM1465.3,1352.7 1469,1352.7 1472.6,1352.7 1476.3,1352.7 1476.3,1345.7 1472.6,1345.7 1469,1345.7 1465.3,1345.7Z" fill="#1e1e9c"/>
</g>
<g stroke="#161616" stroke-width="5.0" fill="none">
<path d="M292.4,1269.3 H1495.3 V2252" stroke="#4c4c4c" stroke-width="5.8"/>
<path d="M292.4,1266.8 V2252 M292.4,2252 H1497.8"/>
</g>
<path d="M292.4,2252v21M350.1,2252v10.5M383.9,2252v10.5M407.8,2252v10.5M426.4,2252v10.5M441.6,2252v10.5M454.4,2252v10.5M465.5,2252v10.5M475.3,2252v10.5M484.1,2252v21M541.8,2252v10.5M575.6,2252v10.5M599.5,2252v10.5M618.1,2252v10.5M633.3,2252v10.5M646.1,2252v10.5M657.2,2252v10.5M667,2252v10.5M675.8,2252v21M733.5,2252v10.5M767.3,2252v10.5M791.2,2252v10.5M809.8,2252v10.5M825,2252v10.5M837.8,2252v10.5M848.9,2252v10.5M858.7,2252v10.5M867.5,2252v21M925.2,2252v10.5M959,2252v10.5M982.9,2252v10.5M1001.5,2252v10.5M1016.7,2252v10.5M1029.5,2252v10.5M1040.6,2252v10.5M1050.4,2252v10.5M1059.2,2252v21M1116.9,2252v10.5M1150.7,2252v10.5M1174.6,2252v10.5M1193.2,2252v10.5M1208.4,2252v10.5M1221.2,2252v10.5M1232.3,2252v10.5M1242.1,2252v10.5M1250.9,2252v21M1308.6,2252v10.5M1342.4,2252v10.5M1366.3,2252v10.5M1384.9,2252v10.5M1400.1,2252v10.5M1412.9,2252v10.5M1424,2252v10.5M1433.8,2252v10.5M1442.6,2252v21M292.4,2252h-21M292.4,2205.1h-10.5M292.4,2177.6h-10.5M292.4,2158.1h-10.5M292.4,2143h-10.5M292.4,2130.6h-10.5M292.4,2120.2h-10.5M292.4,2111.2h-10.5M292.4,2103.2h-10.5M292.4,2096h-21M292.4,2049.1h-10.5M292.4,2021.6h-10.5M292.4,2002.1h-10.5M292.4,1987h-10.5M292.4,1974.7h-10.5M292.4,1964.2h-10.5M292.4,1955.2h-10.5M292.4,1947.2h-10.5M292.4,1940.1h-21M292.4,1893.1h-10.5M292.4,1865.7h-10.5M292.4,1846.2h-10.5M292.4,1831.1h-10.5M292.4,1818.7h-10.5M292.4,1808.3h-10.5M292.4,1799.2h-10.5M292.4,1791.3h-10.5M292.4,1784.1h-21M292.4,1737.2h-10.5M292.4,1709.7h-10.5M292.4,1690.2h-10.5M292.4,1675.1h-10.5M292.4,1662.8h-10.5M292.4,1652.3h-10.5M292.4,1643.3h-10.5M292.4,1635.3h-10.5M292.4,1628.2h-21M292.4,1581.2h-10.5M292.4,1553.8h-10.5M292.4,1534.3h-10.5M292.4,1519.2h-10.5M292.4,1506.8h-10.5M292.4,1496.4h-10.5M292.4,1487.3h-10.5M292.4,1479.3h-10.5M292.4,1472.2h-21M292.4,1425.3h-10.5M292.4,1397.8h-10.5M292.4,1378.3h-10.5M292.4,1363.2h-10.5M292.4,1350.8h-10.5M292.4,1340.4h-10.5M292.4,1331.4h-10.5M292.4,1323.4h-10.5M292.4,1316.2h-21M292.4,1269.3h-10.5" stroke="#161616" stroke-width="4.2" fill="none"/>
<g font-size="59" fill="#222222" stroke="#222222" stroke-width="0.9" font-family='"Liberation Sans", Arial, Helvetica, sans-serif'>
<text x="292.1" y="2345" text-anchor="middle">10<tspan font-size="36" dy="-32" dx="3.6">-2</tspan></text>
<text x="483.8" y="2345" text-anchor="middle">10<tspan font-size="36" dy="-32" dx="3.6">-1</tspan></text>
<text x="675.5" y="2345" text-anchor="middle">10<tspan font-size="36" dy="-32" dx="3.6">0</tspan></text>
<text x="867.2" y="2345" text-anchor="middle">10<tspan font-size="36" dy="-32" dx="3.6">1</tspan></text>
<text x="1058.9" y="2345" text-anchor="middle">10<tspan font-size="36" dy="-32" dx="3.6">2</tspan></text>
<text x="1250.6" y="2345" text-anchor="middle">10<tspan font-size="36" dy="-32" dx="3.6">3</tspan></text>
<text x="1442.3" y="2345" text-anchor="middle">10<tspan font-size="36" dy="-32" dx="3.6">4</tspan></text>
<text x="257.4" y="2276" text-anchor="end">10<tspan font-size="36" dy="-34" dx="2.2">15</tspan></text>
<text x="257.4" y="2120" text-anchor="end">10<tspan font-size="36" dy="-34" dx="2.2">16</tspan></text>
<text x="257.4" y="1964.1" text-anchor="end">10<tspan font-size="36" dy="-34" dx="2.2">17</tspan></text>
<text x="257.4" y="1808.1" text-anchor="end">10<tspan font-size="36" dy="-34" dx="2.2">18</tspan></text>
<text x="257.4" y="1652.2" text-anchor="end">10<tspan font-size="36" dy="-34" dx="2.2">19</tspan></text>
<text x="257.4" y="1496.2" text-anchor="end">10<tspan font-size="36" dy="-34" dx="2.2">20</tspan></text>
<text x="257.4" y="1340.2" text-anchor="end">10<tspan font-size="36" dy="-34" dx="2.2">21</tspan></text>
</g>
<text transform="translate(128.6,1683) rotate(-90)" text-anchor="middle" font-size="79.5" fill="#222222" stroke="#222222" stroke-width="0.9" font-family='"Liberation Sans", Arial, Helvetica, sans-serif'>Concentration of ions, m<tspan font-size="44" dy="-44">-3</tspan></text>
<text x="868" y="2425" text-anchor="middle" font-size="80" fill="#222222" stroke="#222222" stroke-width="0.9" font-family='"Liberation Sans", Arial, Helvetica, sans-serif'>Time, s</text>
<line x1="312" y1="1309.8" x2="452" y2="1309.8" stroke="#7a7a7a" stroke-width="11.5" stroke-linecap="round"/>
<g font-size="60" fill="#222222" stroke="#222222" stroke-width="1.1" font-family='"Liberation Sans", Arial, Helvetica, sans-serif'>
<text transform="translate(466.5,1331.1) scale(1.038,1)">Electrolyte</text>
<text transform="translate(311.5,1407.6) scale(1.038,1)">Ion-generating nanoparticles:</text>
<path d="M311.8,1476.5h3.5M350.8,1476.5h3.5M389.8,1476.5h3.5M428.8,1476.5h3.5" stroke="#ff3040" stroke-opacity="0.12" stroke-width="14" stroke-linecap="round" fill="none"/>
<path d="M311.8,1476.5h3.5M350.8,1476.5h3.5M389.8,1476.5h3.5M428.8,1476.5h3.5" stroke="#ee3a40" stroke-opacity="0.72" stroke-width="7.4" stroke-linecap="round" fill="none"/>
<path d="M311.8,1476.5h3.5M350.8,1476.5h3.5M389.8,1476.5h3.5M428.8,1476.5h3.5" stroke="#7c2a2e" stroke-width="3.4000000000000004" stroke-linecap="round" fill="none"/>
<text transform="translate(470,1495.1) scale(1.025,1)"><tspan font-family='"Liberation Serif", "DejaVu Serif", serif' font-size="55">ν</tspan><tspan font-size="34.5" dy="25" letter-spacing="1.4">NP</tspan><tspan dy="-25">=10</tspan><tspan font-size="34.5" dy="-32">-3</tspan></text>
<line x1="309.5" y1="1586.8" x2="455" y2="1586.8" stroke="#0c0c0c" stroke-width="6.2" stroke-dasharray="30 34"/>
<text transform="translate(470,1605) scale(1.025,1)"><tspan font-family='"Liberation Serif", "DejaVu Serif", serif' font-size="55">ν</tspan><tspan font-size="34.5" dy="25" letter-spacing="1.4">NP</tspan><tspan dy="-25">=3.183x10</tspan><tspan font-size="34.5" dy="-32">-3</tspan></text>
<line x1="309.5" y1="1695" x2="455" y2="1695" stroke="#1e1e9c" stroke-width="6.4" stroke-dasharray="38 17 10 18"/>
<text transform="translate(470,1713.6) scale(1.025,1)"><tspan font-family='"Liberation Serif", "DejaVu Serif", serif' font-size="55">ν</tspan><tspan font-size="34.5" dy="25" letter-spacing="1.4">NP</tspan><tspan dy="-25">=10</tspan><tspan font-size="34.5" dy="-32">-2</tspan></text>
<text transform="translate(742,2012) scale(1.038,1)">c<tspan font-size="34.5" dy="25" letter-spacing="1.4">NP</tspan><tspan dy="-25">=c</tspan><tspan font-size="34.5" dy="25" letter-spacing="1.4">el</tspan><tspan dy="-25">=8.14x10</tspan><tspan font-size="34.5" dy="-32">-7</tspan><tspan dy="32"> mol/L</tspan></text>
<text transform="translate(742,2122) scale(1.025,1)"><tspan font-family='"Liberation Serif", "DejaVu Serif", serif' font-size="50" stroke-width="1.2">ω</tspan><tspan font-size="34.5" dy="25" letter-spacing="1.4">NP</tspan><tspan dy="-25">=10</tspan><tspan font-size="34.5" dy="-32">-3</tspan></text>
</g>
<text x="1470.3" y="2226" text-anchor="end" font-size="60" font-weight="bold" fill="#1c1c1c" stroke="#1c1c1c" stroke-width="0.6" font-family='"Liberation Sans", Arial, Helvetica, sans-serif'>(b)</text>
</g>
<g id="panel-c">
<clipPath id="clipc"><rect x="294.1" y="2493.4" width="1201.2" height="984"/></clipPath>
<g clip-path="url(#clipc)" fill="none">
<path d="M284.9,3379.8 293,3372.8 301.2,3365.8 309.3,3358.9 317.5,3351.9 325.6,3344.9 333.8,3337.9 341.9,3331 350,3324 358.2,3317 366.3,3310 374.5,3303.1 382.6,3296.1 390.7,3289.1 398.9,3282.1 407,3275.2 415.2,3268.2 423.3,3261.2 431.5,3254.2 439.6,3247.3 447.7,3240.3 455.9,3233.3 464,3226.3 472.2,3219.4 480.3,3212.4 488.4,3205.4 496.6,3198.4 504.7,3191.5 512.9,3184.5 521,3177.5 529.1,3170.5 537.3,3163.6 545.4,3156.6 553.6,3149.6 561.7,3142.6 569.9,3135.7 578,3128.7 586.1,3121.7 594.3,3114.7 602.4,3107.8 610.6,3100.8 618.7,3093.8 626.8,3086.8 635,3079.9 643.1,3072.9 651.3,3065.9 659.4,3058.9 667.5,3052 675.7,3045 683.8,3038 692,3031 700.1,3024.1 708.3,3017.1 716.4,3010.1 724.5,3003.1 732.7,2996.2 740.8,2989.2 749,2982.2 757.1,2975.3 765.2,2968.3 773.4,2961.3 781.5,2954.4 789.7,2947.4 797.8,2940.4 805.9,2933.5 814.1,2926.5 822.2,2919.5 830.4,2912.6 838.5,2905.6 846.7,2898.6 854.8,2891.7 862.9,2884.7 871.1,2877.8 879.2,2870.8 887.4,2863.9 895.5,2856.9 903.6,2850 911.8,2843.1 919.9,2836.1 928,2829.2 936.2,2822.3 944.3,2815.3 952.5,2808.4 960.6,2801.5 968.7,2794.6 976.9,2787.7 985,2780.9 993.1,2774 1001.3,2767.1 1009.4,2760.3 1017.5,2753.5 1025.7,2746.7 1033.8,2739.9 1041.9,2733.1 1050.1,2726.4 1058.2,2719.6 1066.3,2713 1074.4,2706.3 1082.6,2699.7 1090.7,2693.1 1098.8,2686.5 1106.9,2680 1115,2673.6 1123.1,2667.2 1131.2,2660.9 1139.3,2654.7 1147.4,2648.5 1155.5,2642.4 1163.6,2636.4 1171.7,2630.6 1179.7,2624.8 1187.8,2619.2 1195.9,2613.7 1203.9,2608.3 1211.9,2603.1 1219.9,2598.1 1228,2593.3 1235.9,2588.8 1243.9,2584.4 1251.9,2580.3 1259.9,2576.4 1267.8,2572.8 1275.7,2569.5 1283.6,2566.4 1291.6,2563.7 1299.5,2561.3 1307.4,2559.1 1315.3,2557.3 1323.2,2555.8 1331.2,2554.6 1339.1,2553.6 1347.1,2552.8 1355.1,2552.2 1363.1,2551.8 1371.2,2551.6 1379.3,2551.4 1387.4,2551.3 1395.5,2551.2 1403.6,2551.2 1411.8,2551.2 1419.9,2551.2 1428,2551.2 1436.2,2551.2 1444.3,2551.2 1452.5,2551.2 1460.6,2551.2 1468.7,2551.2 1476.9,2551.2 1485,2551.2 1493.2,2551.2 1501.3,2551.2 1501.3,2539 1493.2,2539 1485,2539 1476.9,2539 1468.7,2539 1460.6,2539 1452.5,2539 1444.3,2539 1436.2,2539 1428,2539 1419.9,2539 1411.7,2539 1403.6,2539 1395.4,2539 1387.3,2539.1 1379.1,2539.2 1370.9,2539.4 1362.6,2539.6 1354.4,2540 1346.1,2540.6 1337.8,2541.4 1329.5,2542.4 1321.2,2543.6 1312.8,2545.1 1304.4,2546.9 1296.1,2549.1 1287.7,2551.5 1279.3,2554.2 1271,2557.3 1262.6,2560.6 1254.3,2564.3 1245.9,2568.2 1237.6,2572.4 1229.3,2576.8 1221,2581.4 1212.8,2586.3 1204.5,2591.3 1196.2,2596.5 1188,2601.9 1179.8,2607.5 1171.6,2613.1 1163.3,2618.9 1155.1,2624.8 1146.9,2630.9 1138.7,2637 1130.5,2643.2 1122.4,2649.4 1114.2,2655.8 1106,2662.2 1097.8,2668.6 1089.7,2675.2 1081.5,2681.7 1073.3,2688.3 1065.2,2694.9 1057,2701.6 1048.9,2708.3 1040.7,2715.1 1032.6,2721.8 1024.4,2728.6 1016.2,2735.4 1008.1,2742.2 999.9,2749 991.8,2755.9 983.6,2762.7 975.5,2769.6 967.4,2776.5 959.2,2783.4 951.1,2790.3 942.9,2797.2 934.8,2804.1 926.6,2811 918.5,2818 910.3,2824.9 902.2,2831.8 894.1,2838.8 885.9,2845.7 877.8,2852.6 869.6,2859.6 861.5,2866.5 853.3,2873.5 845.2,2880.5 837.1,2887.4 828.9,2894.4 820.8,2901.3 812.6,2908.3 804.5,2915.3 796.3,2922.2 788.2,2929.2 780.1,2936.2 771.9,2943.1 763.8,2950.1 755.6,2957.1 747.5,2964 739.4,2971 731.2,2978 723.1,2985 714.9,2991.9 706.8,2998.9 698.6,3005.9 690.5,3012.8 682.4,3019.8 674.2,3026.8 666.1,3033.8 657.9,3040.7 649.8,3047.7 641.7,3054.7 633.5,3061.7 625.4,3068.6 617.2,3075.6 609.1,3082.6 600.9,3089.6 592.8,3096.5 584.7,3103.5 576.5,3110.5 568.4,3117.5 560.2,3124.4 552.1,3131.4 544,3138.4 535.8,3145.4 527.7,3152.3 519.5,3159.3 511.4,3166.3 503.3,3173.3 495.1,3180.2 487,3187.2 478.8,3194.2 470.7,3201.2 462.5,3208.1 454.4,3215.1 446.3,3222.1 438.1,3229.1 430,3236 421.8,3243 413.7,3250 405.6,3257 397.4,3263.9 389.3,3270.9 381.1,3277.9 373,3284.9 364.8,3291.8 356.7,3298.8 348.6,3305.8 340.4,3312.8 332.3,3319.7 324.1,3326.7 316,3333.7 307.9,3340.7 299.7,3347.6 291.6,3354.6 283.4,3361.6 275.3,3368.6Z" fill="#7a7a7a"/>
<path d="M1138.7,2825.9l2.6,-0.1M1176.5,2825.5l2.6,-0M1214.3,2825.4l2.6,-0M1252.1,2825.4l2.6,-0M1289.9,2825.4l2.6,0M1327.7,2825.4l2.6,0M1365.5,2825.4l2.6,0M1403.3,2825.4l2.6,0M1441.1,2825.4l2.6,0M1478.9,2825.4l2.6,0" stroke="#ff4048" stroke-opacity="0.14" stroke-width="14.0" stroke-linecap="round"/>
<path d="M1064.6,2836.9l2.5,-0.7M1101.1,2828.9l2.6,-0.3" stroke="#ff4048" stroke-opacity="0.14" stroke-width="14.5" stroke-linecap="round"/>
<path d="M998.3,2866.4l2.3,-1.3M1030.3,2849.9l2.4,-1.1" stroke="#ff4048" stroke-opacity="0.14" stroke-width="15.0" stroke-linecap="round"/>
<path d="M293.2,3447.6l2,-1.7M314.8,3429.1l2,-1.7M336.5,3410.5l2,-1.7M358.3,3391.8l2,-1.7M380.3,3373l2,-1.7M402.4,3354l2,-1.7M424.7,3334.9l2,-1.7M447.1,3315.7l2,-1.7M469.7,3296.4l2,-1.7M492.4,3276.9l2,-1.7M515.3,3257.3l2,-1.7M538.4,3237.5l2,-1.7M561.7,3217.6l2,-1.7M585.1,3197.6l2,-1.7M608.7,3177.4l2,-1.7M632.5,3157.1l2,-1.7M656.5,3136.6l2,-1.7M680.7,3116l2,-1.7M705.1,3095.2l2,-1.7M729.7,3074.3l2,-1.7M754.5,3053.3l2,-1.7M779.7,3032.1l2,-1.7M805.1,3010.9l2,-1.7M830.9,2989.5l2,-1.7M857.1,2968.2l2,-1.6M883.8,2946.9l2,-1.6M911.1,2925.7l2.1,-1.6M939.2,2905l2.1,-1.5M968.1,2885.1l2.2,-1.4" stroke="#ff4048" stroke-opacity="0.14" stroke-width="15.5" stroke-linecap="round"/>
<path d="M1138.7,2825.9l2.6,-0.1M1176.5,2825.5l2.6,-0M1214.3,2825.4l2.6,-0M1252.1,2825.4l2.6,-0M1289.9,2825.4l2.6,0M1327.7,2825.4l2.6,0M1365.5,2825.4l2.6,0M1403.3,2825.4l2.6,0M1441.1,2825.4l2.6,0M1478.9,2825.4l2.6,0" stroke="#ee3a40" stroke-opacity="0.72" stroke-width="8.0" stroke-linecap="round"/>
<path d="M1064.6,2836.9l2.5,-0.7M1101.1,2828.9l2.6,-0.3" stroke="#ee3a40" stroke-opacity="0.72" stroke-width="8.5" stroke-linecap="round"/>
<path d="M998.3,2866.4l2.3,-1.3M1030.3,2849.9l2.4,-1.1" stroke="#ee3a40" stroke-opacity="0.72" stroke-width="9.0" stroke-linecap="round"/>
<path d="M293.2,3447.6l2,-1.7M314.8,3429.1l2,-1.7M336.5,3410.5l2,-1.7M358.3,3391.8l2,-1.7M380.3,3373l2,-1.7M402.4,3354l2,-1.7M424.7,3334.9l2,-1.7M447.1,3315.7l2,-1.7M469.7,3296.4l2,-1.7M492.4,3276.9l2,-1.7M515.3,3257.3l2,-1.7M538.4,3237.5l2,-1.7M561.7,3217.6l2,-1.7M585.1,3197.6l2,-1.7M608.7,3177.4l2,-1.7M632.5,3157.1l2,-1.7M656.5,3136.6l2,-1.7M680.7,3116l2,-1.7M705.1,3095.2l2,-1.7M729.7,3074.3l2,-1.7M754.5,3053.3l2,-1.7M779.7,3032.1l2,-1.7M805.1,3010.9l2,-1.7M830.9,2989.5l2,-1.7M857.1,2968.2l2,-1.6M883.8,2946.9l2,-1.6M911.1,2925.7l2.1,-1.6M939.2,2905l2.1,-1.5M968.1,2885.1l2.2,-1.4" stroke="#ee3a40" stroke-opacity="0.72" stroke-width="9.5" stroke-linecap="round"/>
<path d="M1138.7,2825.9l2.6,-0.1M1176.5,2825.5l2.6,-0M1214.3,2825.4l2.6,-0M1252.1,2825.4l2.6,-0M1289.9,2825.4l2.6,0M1327.7,2825.4l2.6,0M1365.5,2825.4l2.6,0M1403.3,2825.4l2.6,0M1441.1,2825.4l2.6,0M1478.9,2825.4l2.6,0" stroke="#7c2a2e" stroke-width="3.8" stroke-linecap="round"/>
<path d="M1064.6,2836.9l2.5,-0.7M1101.1,2828.9l2.6,-0.3" stroke="#7c2a2e" stroke-width="4.3" stroke-linecap="round"/>
<path d="M998.3,2866.4l2.3,-1.3M1030.3,2849.9l2.4,-1.1" stroke="#7c2a2e" stroke-width="4.8" stroke-linecap="round"/>
<path d="M293.2,3447.6l2,-1.7M314.8,3429.1l2,-1.7M336.5,3410.5l2,-1.7M358.3,3391.8l2,-1.7M380.3,3373l2,-1.7M402.4,3354l2,-1.7M424.7,3334.9l2,-1.7M447.1,3315.7l2,-1.7M469.7,3296.4l2,-1.7M492.4,3276.9l2,-1.7M515.3,3257.3l2,-1.7M538.4,3237.5l2,-1.7M561.7,3217.6l2,-1.7M585.1,3197.6l2,-1.7M608.7,3177.4l2,-1.7M632.5,3157.1l2,-1.7M656.5,3136.6l2,-1.7M680.7,3116l2,-1.7M705.1,3095.2l2,-1.7M729.7,3074.3l2,-1.7M754.5,3053.3l2,-1.7M779.7,3032.1l2,-1.7M805.1,3010.9l2,-1.7M830.9,2989.5l2,-1.7M857.1,2968.2l2,-1.6M883.8,2946.9l2,-1.6M911.1,2925.7l2.1,-1.6M939.2,2905l2.1,-1.5M968.1,2885.1l2.2,-1.4" stroke="#7c2a2e" stroke-width="5.3" stroke-linecap="round"/>
<path d="M292.1,3372.6 300.2,3365.7 308.2,3358.8 316.3,3351.9 308.2,3342.5 300.2,3349.4 292.1,3356.3 284.1,3363.2ZM329.6,3340.5 337.6,3333.6 345.7,3326.7 353.8,3319.7 345.8,3310.4 337.7,3317.3 329.6,3324.2 321.5,3331.1ZM367.2,3308.3 375.4,3301.3 383.5,3294.3 391.7,3287.3 383.7,3277.9 375.5,3284.9 367.3,3291.9 359.2,3298.9ZM405.3,3275.7 413.5,3268.6 421.7,3261.6 430,3254.5 421.9,3245.1 413.7,3252.2 405.4,3259.3 397.2,3266.3ZM443.7,3242.8 452,3235.7 460.3,3228.5 468.6,3221.4 460.6,3212 452.3,3219.1 443.9,3226.3 435.6,3233.4ZM482.5,3209.5 490.9,3202.4 499.3,3195.2 507.7,3187.9 499.7,3178.6 491.2,3185.8 482.8,3193 474.4,3200.2ZM521.7,3176 530.1,3168.7 538.6,3161.4 547.2,3154.1 539.1,3144.8 530.6,3152.1 522.1,3159.3 513.6,3166.6ZM561.3,3142.1 569.8,3134.7 578.4,3127.4 587,3120 579,3110.6 570.4,3118 561.8,3125.3 553.2,3132.7ZM601.3,3107.8 610,3100.4 618.7,3093 627.4,3085.5 619.4,3076.1 610.6,3083.6 602,3091 593.3,3098.4ZM641.8,3073.2 650.6,3065.7 659.4,3058.2 668.2,3050.7 660.2,3041.3 651.4,3048.8 642.6,3056.3 633.8,3063.8ZM682.8,3038.2 691.7,3030.7 700.5,3023.1 709.5,3015.5 701.5,3006.2 692.6,3013.7 683.7,3021.3 674.8,3028.9ZM724.3,3002.9 733.3,2995.3 742.3,2987.7 751.3,2980.1 743.4,2970.7 734.3,2978.3 725.3,2985.9 716.3,2993.5ZM766.4,2967.3 775.5,2959.7 784.6,2952 793.8,2944.3 785.9,2934.9 776.7,2942.6 767.6,2950.3 758.5,2957.9ZM809.2,2931.5 818.4,2923.8 827.7,2916.1 837,2908.5 829.3,2899 819.9,2906.7 810.6,2914.4 801.4,2922.1ZM852.8,2895.5 862.3,2887.9 871.7,2880.3 881.3,2872.7 873.8,2863.2 864.2,2870.8 854.7,2878.4 845.2,2886.1ZM897.8,2859.7 907.4,2852.2 917.1,2844.8 927,2837.4 919.9,2828 910,2835.3 900.2,2842.7 890.5,2850.2ZM944.5,2824.6 954.4,2817.6 964.4,2810.7 974.6,2804 968.4,2794.5 958.1,2801.3 947.9,2808.1 937.9,2815.1ZM993.9,2791.8 1004.2,2785.8 1014.6,2780.1 1025.4,2774.7 1020.8,2765.4 1009.8,2770.8 999,2776.4 988.5,2782.4ZM1048,2764.5 1058.9,2760.6 1069.9,2757.2 1081.3,2754.3 1079.2,2745.7 1067.6,2748.5 1056.1,2751.8 1044.9,2755.6ZM1108.5,2749.7 1119.7,2748.7 1130.8,2748 1142.1,2747.6 1141.8,2739.4 1130.5,2739.8 1119.1,2740.4 1107.8,2741.4ZM1171.7,2747.3 1182.8,2747.3 1194,2747.3 1205.1,2747.3 1205.1,2739.1 1194,2739.1 1182.8,2739.1 1171.7,2739.1ZM1235.1,2747.3 1246.2,2747.3 1257.4,2747.3 1268.5,2747.3 1268.5,2739.1 1257.4,2739.1 1246.2,2739.1 1235.1,2739.1ZM1298.5,2747.3 1309.6,2747.3 1320.8,2747.3 1331.9,2747.3 1331.9,2739.1 1320.8,2739.1 1309.6,2739.1 1298.5,2739.1ZM1361.9,2747.3 1373,2747.3 1384.2,2747.3 1395.3,2747.3 1395.3,2739.1 1384.2,2739.1 1373,2739.1 1361.9,2739.1ZM1425.3,2747.3 1436.4,2747.3 1447.6,2747.3 1458.7,2747.3 1458.7,2739.1 1447.6,2739.1 1436.4,2739.1 1425.3,2739.1Z" fill="#0c0c0c"/>
<path d="M287.4,3291.1 295.2,3284.4 302.9,3277.8 310.7,3271.1 305.5,3265.1 297.8,3271.7 290,3278.4 282.2,3285ZM317.3,3265.5 319.9,3263.2 322.6,3260.9 325.2,3258.7 320,3252.6 317.4,3254.9 314.7,3257.1 312.1,3259.4ZM332.1,3252.8 339.9,3246.1 347.7,3239.4 355.6,3232.7 350.4,3226.6 342.5,3233.3 334.7,3240 326.9,3246.7ZM362.2,3226.9 364.9,3224.6 367.6,3222.3 370.3,3220 365.1,3214 362.4,3216.3 359.7,3218.6 357.1,3220.9ZM377.3,3214.1 385.2,3207.3 393.2,3200.5 401.1,3193.6 395.9,3187.6 388,3194.4 380,3201.2 372.1,3208ZM407.9,3187.8 410.6,3185.5 413.3,3183.2 416.1,3180.8 410.9,3174.8 408.2,3177.1 405.4,3179.5 402.7,3181.8ZM423.2,3174.7 431.2,3167.8 439.3,3160.9 447.4,3154 442.2,3147.9 434.1,3154.9 426.1,3161.8 418,3168.7ZM454.3,3148.1 457.1,3145.7 459.8,3143.3 462.6,3141 457.4,3134.9 454.7,3137.3 451.9,3139.7 449.1,3142ZM469.8,3134.8 478,3127.8 486.2,3120.8 494.4,3113.7 489.3,3107.7 481,3114.7 472.8,3121.7 464.6,3128.7ZM501.4,3107.7 504.3,3105.3 507.1,3102.9 509.9,3100.5 504.7,3094.4 501.9,3096.8 499.1,3099.3 496.3,3101.7ZM517.2,3094.2 525.6,3087.1 533.9,3079.9 542.3,3072.7 537.1,3066.7 528.7,3073.9 520.4,3081 512.1,3088.1ZM549.4,3066.7 552.3,3064.2 555.1,3061.7 558,3059.3 552.8,3053.2 550,3055.7 547.1,3058.2 544.2,3060.6ZM565.5,3052.9 573.9,3045.7 582.4,3038.4 590.9,3031.1 585.8,3025.1 577.3,3032.3 568.8,3039.6 560.3,3046.9ZM598.2,3024.9 601.1,3022.4 604,3019.9 607,3017.4 601.8,3011.4 598.9,3013.9 595.9,3016.4 593,3018.9ZM614.6,3010.9 623.2,3003.5 631.8,2996.2 640.5,2988.7 635.3,2982.7 626.7,2990.1 618,2997.5 609.4,3004.9ZM647.9,2982.4 650.9,2979.9 653.8,2977.4 656.8,2974.8 651.7,2968.8 648.7,2971.3 645.7,2973.8 642.7,2976.4ZM664.6,2968.2 673.4,2960.7 682.2,2953.2 691,2945.7 685.9,2939.6 677,2947.1 668.2,2954.7 659.4,2962.2ZM698.6,2939.2 701.6,2936.7 704.6,2934.1 707.7,2931.5 702.5,2925.4 699.5,2928 696.4,2930.6 693.4,2933.2ZM715.6,2924.8 724.6,2917.2 733.6,2909.5 742.6,2901.9 737.5,2895.8 728.4,2903.5 719.4,2911.1 710.4,2918.7ZM750.3,2895.3 753.4,2892.7 756.5,2890.1 759.6,2887.5 754.5,2881.4 751.4,2884 748.3,2886.7 745.2,2889.3ZM767.7,2880.7 776.9,2872.9 786.1,2865.2 795.4,2857.5 790.3,2851.4 781.1,2859.1 771.8,2866.9 762.6,2874.6ZM803.4,2850.8 806.5,2848.2 809.7,2845.5 812.9,2842.9 807.8,2836.8 804.7,2839.4 801.5,2842.1 798.3,2844.7ZM821.3,2836 830.7,2828.2 840.2,2820.4 849.8,2812.6 844.8,2806.5 835.2,2814.3 825.7,2822.1 816.3,2829.8ZM858.1,2805.9 861.3,2803.3 864.6,2800.6 867.9,2798 862.9,2791.9 859.7,2794.5 856.4,2797.1 853.1,2799.7ZM876.7,2791 886.5,2783.2 896.4,2775.5 906.3,2767.8 901.6,2761.6 891.5,2769.3 881.6,2777.1 871.8,2784.8ZM915.2,2761.1 918.6,2758.6 921.9,2756.1 925.3,2753.5 920.7,2747.3 917.3,2749.8 913.9,2752.3 910.5,2754.9ZM934.8,2746.6 945.1,2739.2 955.5,2732 966.1,2724.8 961.8,2718.4 951.2,2725.6 940.7,2732.9 930.3,2740.2ZM975.8,2718.5 979.3,2716.3 982.8,2714.1 986.4,2711.9 982.4,2705.4 978.8,2707.6 975.2,2709.8 971.7,2712ZM997,2705.6 1008.2,2699.4 1019.4,2693.5 1031.1,2688 1027.9,2681.3 1016.1,2686.8 1004.6,2692.7 993.4,2699ZM1042.7,2683.1 1046.4,2681.6 1050.1,2680.2 1053.8,2678.9 1051.4,2672.1 1047.6,2673.4 1043.8,2674.8 1040,2676.3ZM1067,2674.7 1079.4,2671.6 1091.9,2669.1 1104.7,2667.3 1103.7,2660.3 1090.7,2662.1 1077.8,2664.6 1065.2,2667.8ZM1118.9,2665.9 1122.6,2665.7 1126.3,2665.5 1130,2665.3 1129.6,2658.3 1125.9,2658.5 1122.1,2658.7 1118.4,2658.9ZM1145.2,2664.8 1158.1,2664.7 1170.9,2664.6 1183.7,2664.6 1183.7,2657.6 1170.9,2657.6 1158,2657.7 1145.1,2657.8ZM1198.7,2664.6 1202.4,2664.6 1206,2664.6 1209.7,2664.6 1209.7,2657.6 1206,2657.6 1202.4,2657.6 1198.7,2657.6ZM1225.2,2664.6 1238,2664.6 1250.9,2664.6 1263.7,2664.6 1263.7,2657.6 1250.9,2657.6 1238,2657.6 1225.2,2657.6ZM1278.7,2664.6 1282.4,2664.6 1286,2664.6 1289.7,2664.6 1289.7,2657.6 1286,2657.6 1282.4,2657.6 1278.7,2657.6ZM1305.2,2664.6 1318,2664.6 1330.9,2664.6 1343.7,2664.6 1343.7,2657.6 1330.9,2657.6 1318,2657.6 1305.2,2657.6ZM1358.7,2664.6 1362.4,2664.6 1366,2664.6 1369.7,2664.6 1369.7,2657.6 1366,2657.6 1362.4,2657.6 1358.7,2657.6ZM1385.2,2664.6 1398,2664.6 1410.9,2664.6 1423.7,2664.6 1423.7,2657.6 1410.9,2657.6 1398,2657.6 1385.2,2657.6ZM1438.7,2664.6 1442.4,2664.6 1446,2664.6 1449.7,2664.6 1449.7,2657.6 1446,2657.6 1442.4,2657.6 1438.7,2657.6ZM1465.2,2664.6 1477.2,2664.6 1489.3,2664.6 1501.3,2664.6 1501.3,2657.6 1489.3,2657.6 1477.2,2657.6 1465.2,2657.6Z" fill="#1e1e9c"/>
</g>
<g stroke="#161616" stroke-width="5.0" fill="none">
<path d="M294.1,2493.4 H1495.3 V3477.4" stroke="#4c4c4c" stroke-width="5.8"/>
<path d="M294.1,2490.9 V3477.4 M294.1,3477.4 H1497.8"/>
</g>
<path d="M294.1,3477.4v21M351.7,3477.4v10.5M385.4,3477.4v10.5M409.3,3477.4v10.5M427.9,3477.4v10.5M443.1,3477.4v10.5M455.9,3477.4v10.5M467,3477.4v10.5M476.8,3477.4v10.5M485.5,3477.4v21M543.1,3477.4v10.5M576.8,3477.4v10.5M600.8,3477.4v10.5M619.3,3477.4v10.5M634.5,3477.4v10.5M647.3,3477.4v10.5M658.4,3477.4v10.5M668.2,3477.4v10.5M676.9,3477.4v21M734.6,3477.4v10.5M768.3,3477.4v10.5M792.2,3477.4v10.5M810.7,3477.4v10.5M825.9,3477.4v10.5M838.7,3477.4v10.5M849.8,3477.4v10.5M859.6,3477.4v10.5M868.4,3477.4v21M926,3477.4v10.5M959.7,3477.4v10.5M983.6,3477.4v10.5M1002.1,3477.4v10.5M1017.3,3477.4v10.5M1030.1,3477.4v10.5M1041.2,3477.4v10.5M1051,3477.4v10.5M1059.8,3477.4v21M1117.4,3477.4v10.5M1151.1,3477.4v10.5M1175,3477.4v10.5M1193.6,3477.4v10.5M1208.7,3477.4v10.5M1221.5,3477.4v10.5M1232.6,3477.4v10.5M1242.4,3477.4v10.5M1251.2,3477.4v21M1308.8,3477.4v10.5M1342.5,3477.4v10.5M1366.4,3477.4v10.5M1385,3477.4v10.5M1400.1,3477.4v10.5M1412.9,3477.4v10.5M1424,3477.4v10.5M1433.8,3477.4v10.5M1442.6,3477.4v21M294.1,3477.4h-21M294.1,3428h-10.5M294.1,3399.2h-10.5M294.1,3378.7h-10.5M294.1,3362.8h-10.5M294.1,3349.8h-10.5M294.1,3338.8h-10.5M294.1,3329.3h-10.5M294.1,3320.9h-10.5M294.1,3313.4h-21M294.1,3264h-10.5M294.1,3235.2h-10.5M294.1,3214.7h-10.5M294.1,3198.8h-10.5M294.1,3185.8h-10.5M294.1,3174.8h-10.5M294.1,3165.3h-10.5M294.1,3156.9h-10.5M294.1,3149.4h-21M294.1,3100h-10.5M294.1,3071.2h-10.5M294.1,3050.7h-10.5M294.1,3034.8h-10.5M294.1,3021.8h-10.5M294.1,3010.8h-10.5M294.1,3001.3h-10.5M294.1,2992.9h-10.5M294.1,2985.4h-21M294.1,2936h-10.5M294.1,2907.2h-10.5M294.1,2886.7h-10.5M294.1,2870.8h-10.5M294.1,2857.8h-10.5M294.1,2846.8h-10.5M294.1,2837.3h-10.5M294.1,2828.9h-10.5M294.1,2821.4h-21M294.1,2772h-10.5M294.1,2743.2h-10.5M294.1,2722.7h-10.5M294.1,2706.8h-10.5M294.1,2693.8h-10.5M294.1,2682.8h-10.5M294.1,2673.3h-10.5M294.1,2664.9h-10.5M294.1,2657.4h-21M294.1,2608h-10.5M294.1,2579.2h-10.5M294.1,2558.7h-10.5M294.1,2542.8h-10.5M294.1,2529.8h-10.5M294.1,2518.8h-10.5M294.1,2509.3h-10.5M294.1,2500.9h-10.5M294.1,2493.4h-21" stroke="#161616" stroke-width="4.2" fill="none"/>
<g font-size="59" fill="#222222" stroke="#222222" stroke-width="0.9" font-family='"Liberation Sans", Arial, Helvetica, sans-serif'>
<text x="293.8" y="3570.4" text-anchor="middle">10<tspan font-size="36" dy="-32" dx="3.6">-2</tspan></text>
<text x="485.2" y="3570.4" text-anchor="middle">10<tspan font-size="36" dy="-32" dx="3.6">-1</tspan></text>
<text x="676.6" y="3570.4" text-anchor="middle">10<tspan font-size="36" dy="-32" dx="3.6">0</tspan></text>
<text x="868.1" y="3570.4" text-anchor="middle">10<tspan font-size="36" dy="-32" dx="3.6">1</tspan></text>
<text x="1059.5" y="3570.4" text-anchor="middle">10<tspan font-size="36" dy="-32" dx="3.6">2</tspan></text>
<text x="1250.9" y="3570.4" text-anchor="middle">10<tspan font-size="36" dy="-32" dx="3.6">3</tspan></text>
<text x="1442.3" y="3570.4" text-anchor="middle">10<tspan font-size="36" dy="-32" dx="3.6">4</tspan></text>
<text x="259.1" y="3501.4" text-anchor="end">10<tspan font-size="36" dy="-34" dx="2.2">16</tspan></text>
<text x="259.1" y="3337.4" text-anchor="end">10<tspan font-size="36" dy="-34" dx="2.2">17</tspan></text>
<text x="259.1" y="3173.4" text-anchor="end">10<tspan font-size="36" dy="-34" dx="2.2">18</tspan></text>
<text x="259.1" y="3009.4" text-anchor="end">10<tspan font-size="36" dy="-34" dx="2.2">19</tspan></text>
<text x="259.1" y="2845.4" text-anchor="end">10<tspan font-size="36" dy="-34" dx="2.2">20</tspan></text>
<text x="259.1" y="2681.4" text-anchor="end">10<tspan font-size="36" dy="-34" dx="2.2">21</tspan></text>
<text x="259.1" y="2517.4" text-anchor="end">10<tspan font-size="36" dy="-34" dx="2.2">22</tspan></text>
</g>
<text transform="translate(122.2,2951.4) rotate(-90)" text-anchor="middle" font-size="79" fill="#222222" stroke="#222222" stroke-width="0.9" font-family='"Liberation Sans", Arial, Helvetica, sans-serif'>Concentration of ions, m<tspan font-size="44" dy="-44">-3</tspan></text>
<text x="880" y="3653.4" text-anchor="middle" font-size="80" fill="#222222" stroke="#222222" stroke-width="0.9" font-family='"Liberation Sans", Arial, Helvetica, sans-serif'>Time, s</text>
<line x1="312" y1="2525.3" x2="452" y2="2525.3" stroke="#7a7a7a" stroke-width="11.5" stroke-linecap="round"/>
<g font-size="60" fill="#222222" stroke="#222222" stroke-width="1.1" font-family='"Liberation Sans", Arial, Helvetica, sans-serif'>
<text transform="translate(466.5,2546.6) scale(1.038,1)">Electrolyte</text>
<text transform="translate(311.5,2623.1) scale(1.038,1)">Ion-generating nanoparticles:</text>
<path d="M311.8,2691.6h3.5M350.8,2691.6h3.5M389.8,2691.6h3.5M428.8,2691.6h3.5" stroke="#ff3040" stroke-opacity="0.12" stroke-width="14" stroke-linecap="round" fill="none"/>
<path d="M311.8,2691.6h3.5M350.8,2691.6h3.5M389.8,2691.6h3.5M428.8,2691.6h3.5" stroke="#ee3a40" stroke-opacity="0.72" stroke-width="7.4" stroke-linecap="round" fill="none"/>
<path d="M311.8,2691.6h3.5M350.8,2691.6h3.5M389.8,2691.6h3.5M428.8,2691.6h3.5" stroke="#7c2a2e" stroke-width="3.4000000000000004" stroke-linecap="round" fill="none"/>
<text transform="translate(470,2710.6) scale(1.025,1)"><tspan font-family='"Liberation Serif", "DejaVu Serif", serif' font-size="55">ν</tspan><tspan font-size="34.5" dy="25" letter-spacing="1.4">NP</tspan><tspan dy="-25">=10</tspan><tspan font-size="34.5" dy="-32">-3</tspan></text>
<line x1="309.5" y1="2801.4" x2="455" y2="2801.4" stroke="#0c0c0c" stroke-width="6.2" stroke-dasharray="30 34"/>
<text transform="translate(470,2820.9) scale(1.025,1)"><tspan font-family='"Liberation Serif", "DejaVu Serif", serif' font-size="55">ν</tspan><tspan font-size="34.5" dy="25" letter-spacing="1.4">NP</tspan><tspan dy="-25">=3.183x10</tspan><tspan font-size="34.5" dy="-32">-3</tspan></text>
<line x1="309.5" y1="2910.9" x2="455" y2="2910.9" stroke="#1e1e9c" stroke-width="6.4" stroke-dasharray="38 17 10 18"/>
<text transform="translate(470,2930.1) scale(1.025,1)"><tspan font-family='"Liberation Serif", "DejaVu Serif", serif' font-size="55">ν</tspan><tspan font-size="34.5" dy="25" letter-spacing="1.4">NP</tspan><tspan dy="-25">=10</tspan><tspan font-size="34.5" dy="-32">-2</tspan></text>
<text transform="translate(742,3230) scale(1.038,1)">c<tspan font-size="34.5" dy="25" letter-spacing="1.4">NP</tspan><tspan dy="-25">=c</tspan><tspan font-size="34.5" dy="25" letter-spacing="1.4">el</tspan><tspan dy="-25">=8.19x10</tspan><tspan font-size="34.5" dy="-32">-6</tspan><tspan dy="32"> mol/L</tspan></text>
<text transform="translate(742,3336) scale(1.025,1)"><tspan font-family='"Liberation Serif", "DejaVu Serif", serif' font-size="50" stroke-width="1.2">ω</tspan><tspan font-size="34.5" dy="25" letter-spacing="1.4">NP</tspan><tspan dy="-25">=10</tspan><tspan font-size="34.5" dy="-32">-2</tspan></text>
</g>
<text x="1461.3" y="3451.4" text-anchor="end" font-size="60" font-weight="bold" fill="#1c1c1c" stroke="#1c1c1c" stroke-width="0.6" font-family='"Liberation Sans", Arial, Helvetica, sans-serif'>(c)</text>
</g>
</g>
</svg>
</body>
</html>
